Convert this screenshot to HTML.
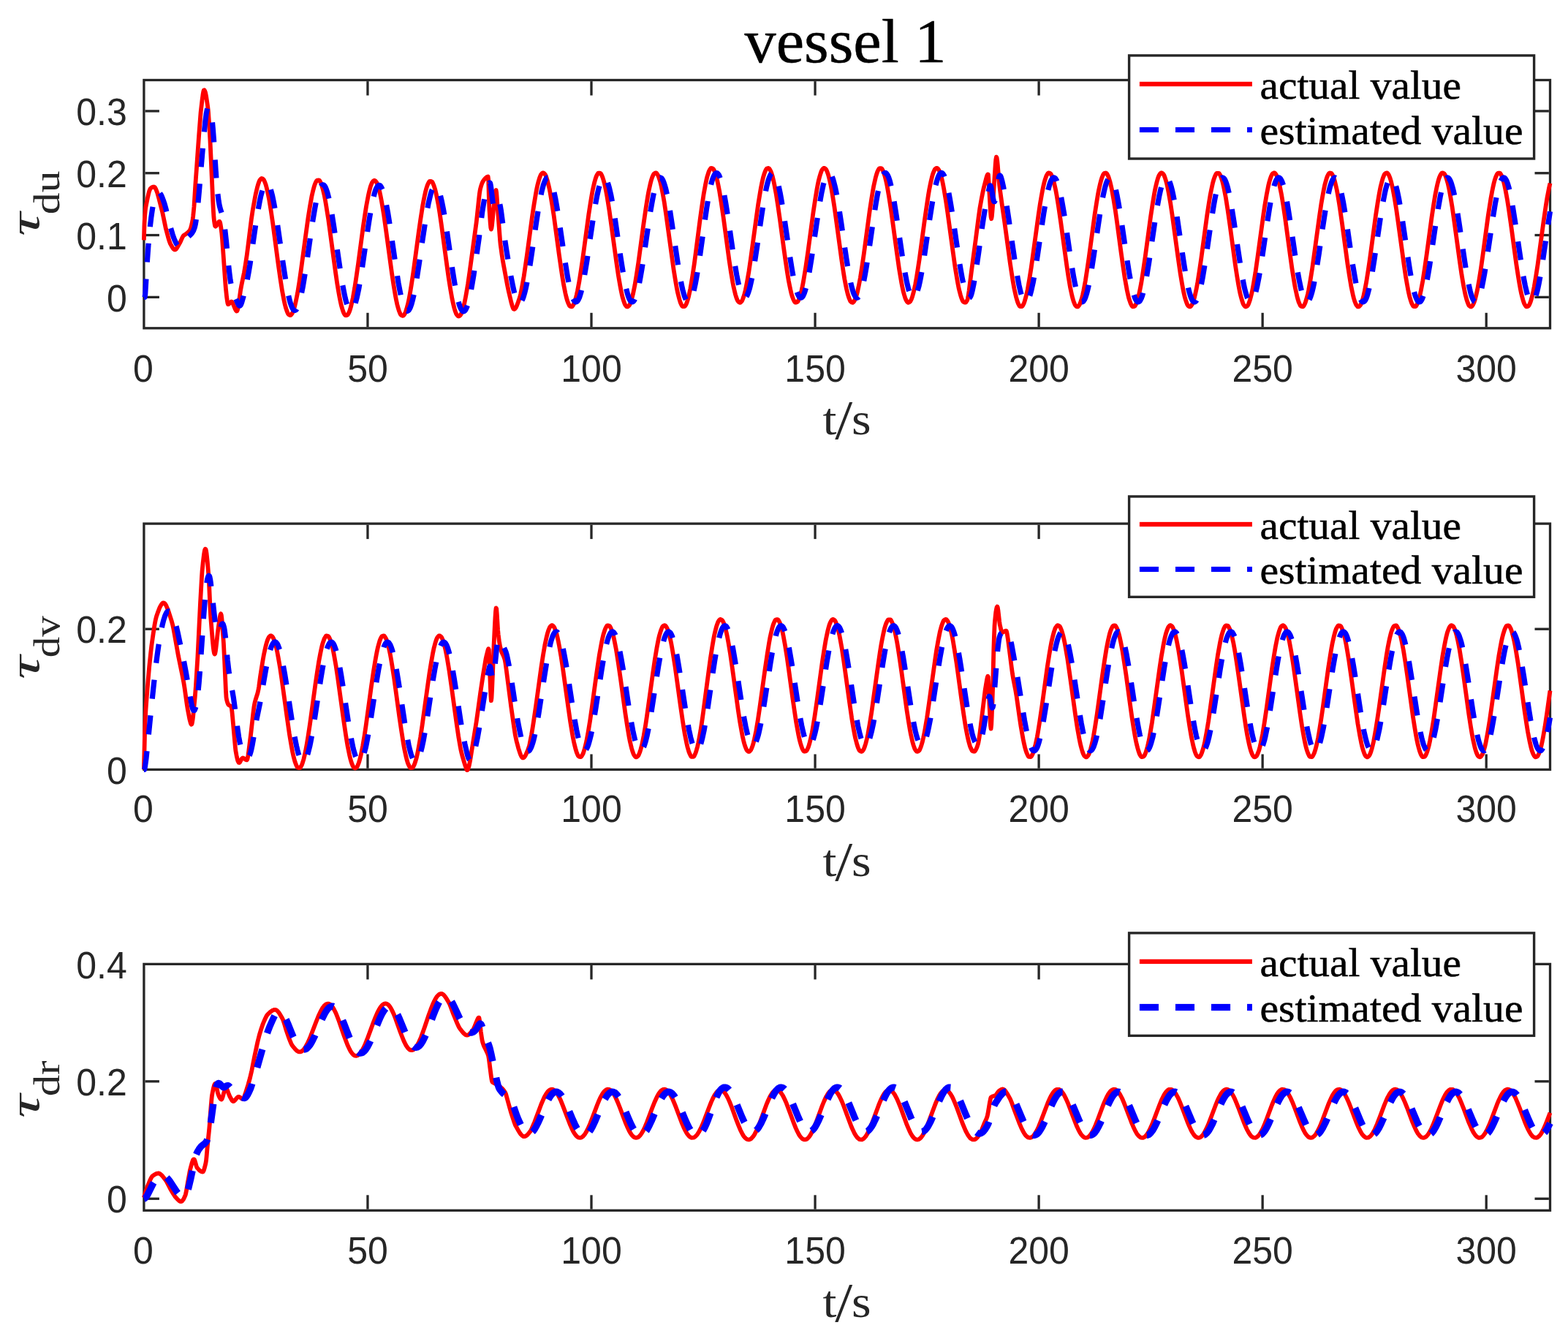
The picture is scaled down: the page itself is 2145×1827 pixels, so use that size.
<!DOCTYPE html>
<html lang="en"><head><meta charset="utf-8"><title>vessel 1</title>
<style>
html,body{margin:0;padding:0;background:#fff;}
body{width:2145px;height:1827px;overflow:hidden;}
svg{display:block;}
.tk{font-family:"Liberation Sans",sans-serif;font-size:52px;fill:#262626;}
.xl{font-family:"Liberation Serif",serif;font-size:61px;fill:#262626;}
.lg{font-family:"Liberation Serif",serif;font-size:54px;fill:#000;stroke:#000;stroke-width:0.5px;}
.ti{font-family:"Liberation Serif",serif;font-size:85px;fill:#000;stroke:#000;stroke-width:0.5px;}
.yl{font-family:"Liberation Serif",serif;fill:#262626;}
.ax{fill:#262626;}
.r{fill:none;stroke:#f00;stroke-linejoin:round;stroke-linecap:butt;}
.b{fill:none;stroke:#00f;stroke-linejoin:round;stroke-linecap:butt;}
</style></head><body>
<svg xmlns="http://www.w3.org/2000/svg" width="2145" height="1827" viewBox="0 0 2145 1827">
<rect x="0" y="0" width="2145" height="1827" fill="#fff"/>
<g id="axes1">
<rect x="196.9" y="109.5" width="1923.6" height="339.3" fill="none" stroke="#262626" stroke-width="3.3"/>
<text class="tk" transform="translate(195.9 521.6) scale(0.9615 1)" text-anchor="middle">0</text>
<rect class="ax" x="501.3" y="427.8" width="3.3" height="19.35"/>
<rect class="ax" x="501.3" y="111.15" width="3.3" height="19.35"/>
<text class="tk" transform="translate(502.95 521.6) scale(0.9615 1)" text-anchor="middle">50</text>
<rect class="ax" x="807.35" y="427.8" width="3.3" height="19.35"/>
<rect class="ax" x="807.35" y="111.15" width="3.3" height="19.35"/>
<text class="tk" transform="translate(809 521.6) scale(0.9615 1)" text-anchor="middle">100</text>
<rect class="ax" x="1113.4" y="427.8" width="3.3" height="19.35"/>
<rect class="ax" x="1113.4" y="111.15" width="3.3" height="19.35"/>
<text class="tk" transform="translate(1115.05 521.6) scale(0.9615 1)" text-anchor="middle">150</text>
<rect class="ax" x="1419.45" y="427.8" width="3.3" height="19.35"/>
<rect class="ax" x="1419.45" y="111.15" width="3.3" height="19.35"/>
<text class="tk" transform="translate(1421.1 521.6) scale(0.9615 1)" text-anchor="middle">200</text>
<rect class="ax" x="1725.5" y="427.8" width="3.3" height="19.35"/>
<rect class="ax" x="1725.5" y="111.15" width="3.3" height="19.35"/>
<text class="tk" transform="translate(1727.15 521.6) scale(0.9615 1)" text-anchor="middle">250</text>
<rect class="ax" x="2031.55" y="427.8" width="3.3" height="19.35"/>
<rect class="ax" x="2031.55" y="111.15" width="3.3" height="19.35"/>
<text class="tk" transform="translate(2033.2 521.6) scale(0.9615 1)" text-anchor="middle">300</text>
<rect class="ax" x="198.55" y="404.74" width="19.35" height="3.3"/>
<rect class="ax" x="2099.5" y="404.74" width="19.35" height="3.3"/>
<text class="tk" transform="translate(173.7 425.59) scale(0.9615 1)" text-anchor="end">0</text>
<rect class="ax" x="198.55" y="319.91" width="19.35" height="3.3"/>
<rect class="ax" x="2099.5" y="319.91" width="19.35" height="3.3"/>
<text class="tk" transform="translate(173.7 340.76) scale(0.9615 1)" text-anchor="end">0.1</text>
<rect class="ax" x="198.55" y="235.09" width="19.35" height="3.3"/>
<rect class="ax" x="2099.5" y="235.09" width="19.35" height="3.3"/>
<text class="tk" transform="translate(173.7 255.94) scale(0.9615 1)" text-anchor="end">0.2</text>
<rect class="ax" x="198.55" y="150.26" width="19.35" height="3.3"/>
<rect class="ax" x="2099.5" y="150.26" width="19.35" height="3.3"/>
<text class="tk" transform="translate(173.7 171.11) scale(0.9615 1)" text-anchor="end">0.3</text>
<text class="xl" transform="translate(1125.5 594.2) scale(1.12 1)">t<tspan font-size="77px" dx="-2" dy="6">/</tspan><tspan dx="-1" dy="-6">s</tspan></text>
<text class="yl" transform="translate(53.4 322.95) rotate(-90)"><tspan font-size="58px" font-style="italic" stroke="#262626" stroke-width="0" textLength="32.3" lengthAdjust="spacingAndGlyphs">τ</tspan><tspan font-size="51px" dx="-2.5" dy="27.1" textLength="59.6" lengthAdjust="spacingAndGlyphs">du</tspan></text>
</g>
<g id="axes2">
<rect x="196.9" y="716.1" width="1923.6" height="336.3" fill="none" stroke="#262626" stroke-width="3.3"/>
<text class="tk" transform="translate(195.9 1124.4) scale(0.9615 1)" text-anchor="middle">0</text>
<rect class="ax" x="501.3" y="1031.4" width="3.3" height="19.35"/>
<rect class="ax" x="501.3" y="717.75" width="3.3" height="19.35"/>
<text class="tk" transform="translate(502.95 1124.4) scale(0.9615 1)" text-anchor="middle">50</text>
<rect class="ax" x="807.35" y="1031.4" width="3.3" height="19.35"/>
<rect class="ax" x="807.35" y="717.75" width="3.3" height="19.35"/>
<text class="tk" transform="translate(809 1124.4) scale(0.9615 1)" text-anchor="middle">100</text>
<rect class="ax" x="1113.4" y="1031.4" width="3.3" height="19.35"/>
<rect class="ax" x="1113.4" y="717.75" width="3.3" height="19.35"/>
<text class="tk" transform="translate(1115.05 1124.4) scale(0.9615 1)" text-anchor="middle">150</text>
<rect class="ax" x="1419.45" y="1031.4" width="3.3" height="19.35"/>
<rect class="ax" x="1419.45" y="717.75" width="3.3" height="19.35"/>
<text class="tk" transform="translate(1421.1 1124.4) scale(0.9615 1)" text-anchor="middle">200</text>
<rect class="ax" x="1725.5" y="1031.4" width="3.3" height="19.35"/>
<rect class="ax" x="1725.5" y="717.75" width="3.3" height="19.35"/>
<text class="tk" transform="translate(1727.15 1124.4) scale(0.9615 1)" text-anchor="middle">250</text>
<rect class="ax" x="2031.55" y="1031.4" width="3.3" height="19.35"/>
<rect class="ax" x="2031.55" y="717.75" width="3.3" height="19.35"/>
<text class="tk" transform="translate(2033.2 1124.4) scale(0.9615 1)" text-anchor="middle">300</text>
<text class="tk" transform="translate(173.7 1071.6) scale(0.9615 1)" text-anchor="end">0</text>
<rect class="ax" x="198.55" y="858.58" width="19.35" height="3.3"/>
<rect class="ax" x="2099.5" y="858.58" width="19.35" height="3.3"/>
<text class="tk" transform="translate(173.7 879.43) scale(0.9615 1)" text-anchor="end">0.2</text>
<text class="xl" transform="translate(1125.5 1197.8) scale(1.12 1)">t<tspan font-size="77px" dx="-2" dy="6">/</tspan><tspan dx="-1" dy="-6">s</tspan></text>
<text class="yl" transform="translate(53.4 929.1) rotate(-90)"><tspan font-size="58px" font-style="italic" stroke="#262626" stroke-width="0" textLength="32.3" lengthAdjust="spacingAndGlyphs">τ</tspan><tspan font-size="51px" dx="-2.5" dy="27.1" textLength="57.1" lengthAdjust="spacingAndGlyphs">dv</tspan></text>
</g>
<g id="axes3">
<rect x="196.9" y="1318.4" width="1923.6" height="336.9" fill="none" stroke="#262626" stroke-width="3.3"/>
<text class="tk" transform="translate(195.9 1727.6) scale(0.9615 1)" text-anchor="middle">0</text>
<rect class="ax" x="501.3" y="1634.3" width="3.3" height="19.35"/>
<rect class="ax" x="501.3" y="1320.05" width="3.3" height="19.35"/>
<text class="tk" transform="translate(502.95 1727.6) scale(0.9615 1)" text-anchor="middle">50</text>
<rect class="ax" x="807.35" y="1634.3" width="3.3" height="19.35"/>
<rect class="ax" x="807.35" y="1320.05" width="3.3" height="19.35"/>
<text class="tk" transform="translate(809 1727.6) scale(0.9615 1)" text-anchor="middle">100</text>
<rect class="ax" x="1113.4" y="1634.3" width="3.3" height="19.35"/>
<rect class="ax" x="1113.4" y="1320.05" width="3.3" height="19.35"/>
<text class="tk" transform="translate(1115.05 1727.6) scale(0.9615 1)" text-anchor="middle">150</text>
<rect class="ax" x="1419.45" y="1634.3" width="3.3" height="19.35"/>
<rect class="ax" x="1419.45" y="1320.05" width="3.3" height="19.35"/>
<text class="tk" transform="translate(1421.1 1727.6) scale(0.9615 1)" text-anchor="middle">200</text>
<rect class="ax" x="1725.5" y="1634.3" width="3.3" height="19.35"/>
<rect class="ax" x="1725.5" y="1320.05" width="3.3" height="19.35"/>
<text class="tk" transform="translate(1727.15 1727.6) scale(0.9615 1)" text-anchor="middle">250</text>
<rect class="ax" x="2031.55" y="1634.3" width="3.3" height="19.35"/>
<rect class="ax" x="2031.55" y="1320.05" width="3.3" height="19.35"/>
<text class="tk" transform="translate(2033.2 1727.6) scale(0.9615 1)" text-anchor="middle">300</text>
<rect class="ax" x="198.55" y="1637.61" width="19.35" height="3.3"/>
<rect class="ax" x="2099.5" y="1637.61" width="19.35" height="3.3"/>
<text class="tk" transform="translate(173.7 1658.46) scale(0.9615 1)" text-anchor="end">0</text>
<rect class="ax" x="198.55" y="1477.18" width="19.35" height="3.3"/>
<rect class="ax" x="2099.5" y="1477.18" width="19.35" height="3.3"/>
<text class="tk" transform="translate(173.7 1498.03) scale(0.9615 1)" text-anchor="end">0.2</text>
<text class="tk" transform="translate(173.7 1337.6) scale(0.9615 1)" text-anchor="end">0.4</text>
<text class="xl" transform="translate(1125.5 1800.7) scale(1.12 1)">t<tspan font-size="77px" dx="-2" dy="6">/</tspan><tspan dx="-1" dy="-6">s</tspan></text>
<text class="yl" transform="translate(53.4 1529.1) rotate(-90)"><tspan font-size="58px" font-style="italic" stroke="#262626" stroke-width="0" textLength="32.3" lengthAdjust="spacingAndGlyphs">τ</tspan><tspan font-size="51px" dx="-2.5" dy="27.1" textLength="48.9" lengthAdjust="spacingAndGlyphs">dr</tspan></text>
</g>
<g id="curves1">
<path class="r" stroke-width="5.8" d="M196.9,328.3 197.5,306.4 198.1,295.5 198.7,289.0 199.3,284.0 200.0,280.2 201.8,271.2 203.0,265.8 204.2,261.3 204.9,259.6 205.5,258.3 206.1,257.5 207.9,256.2 209.1,255.7 209.8,255.6 210.4,255.5 211.0,255.6 211.6,256.0 212.2,256.7 212.8,257.7 213.4,259.0 214.0,260.5 215.3,264.0 217.1,270.5 222.0,289.4 223.2,295.1 225.7,307.2 226.9,312.8 230.6,326.4 231.8,330.3 233.0,333.4 235.5,337.8 236.7,339.7 237.3,340.4 237.9,341.0 238.5,341.3 239.1,341.5 239.7,341.4 240.4,341.0 241.0,340.5 241.6,339.8 242.8,337.9 246.5,331.4 249.5,324.6 250.2,323.4 250.8,322.5 252.0,321.4 254.4,320.0 257.5,317.5 258.7,316.2 259.3,315.4 259.9,314.4 260.6,313.0 261.2,311.3 262.4,306.5 263.6,300.2 264.2,295.5 265.5,282.3 267.3,253.0 269.1,228.1 271.0,201.1 272.2,184.4 274.6,153.5 276.5,137.2 277.7,128.2 278.3,125.0 278.9,123.3 279.5,123.2 280.1,124.1 280.8,125.8 281.4,128.2 282.0,131.3 283.8,143.1 284.4,147.6 285.0,153.7 286.3,171.6 287.5,193.0 288.7,218.6 291.2,274.8 291.8,286.6 292.4,296.4 293.0,302.3 293.6,306.3 294.2,309.0 294.8,309.7 295.4,309.3 296.1,308.6 298.5,304.5 299.1,303.6 299.7,303.1 300.3,302.9 301.0,304.0 301.6,306.6 302.2,310.4 303.4,319.7 304.0,326.5 308.3,387.3 308.9,394.4 310.1,406.0 310.8,410.9 311.4,414.5 312.0,416.2 312.6,416.1 313.2,415.6 315.0,413.5 315.6,412.9 316.3,412.5 316.9,412.6 317.5,413.1 318.1,414.0 318.7,415.2 321.8,422.8 322.4,424.0 323.0,424.9 323.6,425.5 324.2,425.4 324.8,424.2 325.4,421.7 326.1,418.3 329.1,396.9 330.3,390.4 334.0,372.5 335.8,361.6 337.7,349.1 338.9,339.9 343.8,300.4 345.6,288.3 348.7,271.1 349.9,264.8 351.8,256.8 353.0,252.5 354.2,249.0 354.8,247.5 355.4,246.4 356.7,244.8 357.3,244.2 357.9,244.0 358.5,244.1 359.7,244.8 360.3,245.3 360.9,246.0 362.2,248.7 363.4,251.9 364.6,256.2 365.8,261.2 368.3,273.5 370.7,288.4 373.2,305.2 380.5,360.4 383.6,382.1 386.0,397.6 388.5,410.6 389.7,416.1 390.9,420.8 392.2,424.6 393.4,427.7 394.0,428.9 394.6,429.7 395.8,430.7 396.4,431.0 397.1,431.2 397.7,431.0 398.3,430.4 399.5,428.9 400.1,427.8 400.7,426.4 402.0,423.0 403.2,418.8 404.4,413.7 405.6,407.9 406.9,401.4 409.3,386.7 411.7,370.0 418.5,319.7 421.5,297.9 424.0,282.2 426.4,268.7 428.3,260.4 429.5,255.9 430.7,252.1 431.9,249.3 432.6,248.1 433.2,247.1 433.8,246.7 435.0,246.5 436.2,246.4 436.8,246.7 437.5,247.5 438.1,248.6 439.3,251.1 440.5,254.6 441.7,258.9 443.6,266.8 444.8,273.0 446.0,279.9 449.1,299.4 451.5,316.9 458.9,371.5 461.3,388.1 463.2,399.3 464.4,406.0 465.6,412.0 466.8,417.4 468.1,421.9 469.3,425.6 469.9,427.2 470.5,428.4 471.7,430.4 472.3,431.1 473.0,431.3 473.6,431.3 474.8,430.9 475.4,430.6 476.0,430.0 476.6,429.0 477.9,426.2 479.1,422.7 480.3,418.4 481.5,413.2 482.8,407.3 485.2,393.6 487.6,377.7 490.1,360.2 496.8,310.0 499.3,293.2 501.1,281.7 503.6,268.5 505.4,260.4 506.6,255.9 507.2,254.0 508.5,250.8 509.1,249.5 509.7,248.6 510.9,247.3 511.5,246.9 512.1,246.7 512.7,246.9 513.4,247.3 514.6,248.6 515.2,249.5 515.8,250.8 517.0,254.0 518.3,258.0 519.5,262.9 520.7,268.5 521.9,274.8 523.1,281.7 525.0,293.2 528.0,314.5 536.0,373.5 538.5,390.0 540.9,404.4 542.1,410.6 543.3,416.2 544.6,420.9 545.8,425.0 547.0,428.0 547.6,429.3 548.2,430.4 548.9,431.0 549.5,431.3 550.7,431.8 551.3,431.8 551.9,431.6 552.5,430.9 553.8,429.0 554.4,427.8 555.0,426.2 556.2,422.5 557.4,418.1 558.7,412.8 559.9,406.8 561.1,400.1 562.9,389.0 565.4,372.5 572.7,318.1 575.2,300.7 578.2,281.3 579.5,274.4 580.7,268.3 581.9,262.8 583.1,258.1 584.4,254.2 585.0,252.5 586.2,250.1 586.8,249.0 587.4,248.2 588.0,247.9 589.3,247.9 590.5,248.2 591.1,248.6 591.7,249.6 592.3,250.8 593.5,253.6 595.4,259.6 596.6,264.6 597.8,270.3 599.7,280.1 601.5,291.3 603.9,307.9 611.3,362.5 613.7,379.8 616.2,395.6 618.6,409.2 619.9,415.0 621.1,420.0 621.7,422.3 622.9,426.0 624.1,429.1 624.8,430.2 626.0,431.7 626.6,432.3 627.2,432.5 627.8,432.4 628.4,432.1 629.7,431.1 630.3,430.3 631.5,427.7 632.7,424.4 633.9,420.1 635.2,415.2 637.0,406.2 638.2,399.5 640.1,388.2 642.5,371.6 651.7,304.0 652.9,293.1 655.4,269.2 656.0,264.4 656.6,260.5 657.2,257.7 658.4,253.5 659.6,250.1 660.9,247.6 662.1,245.9 664.5,243.2 665.8,242.2 666.4,241.9 667.6,241.5 668.2,245.8 668.8,268.5 669.4,285.0 670.7,304.8 671.3,311.2 671.9,313.6 672.5,311.9 673.1,307.5 675.0,287.4 677.4,264.7 678.0,261.0 678.6,260.0 679.2,263.6 679.8,270.9 681.1,289.5 684.1,328.8 684.7,334.9 685.4,339.9 686.6,348.7 687.8,356.3 689.0,363.1 693.9,389.2 695.8,398.4 699.4,413.6 700.7,418.1 701.3,420.0 701.9,421.5 702.5,422.5 703.1,422.9 703.7,422.8 704.3,422.4 704.9,421.8 705.6,420.9 706.8,418.5 708.6,413.8 711.1,406.5 711.7,404.3 712.3,401.6 714.7,389.0 716.6,378.2 717.8,370.2 720.9,348.8 728.2,294.8 730.7,278.5 733.1,264.2 734.3,257.9 735.5,252.4 736.8,247.5 738.0,243.6 739.2,240.4 739.8,239.1 740.4,238.2 741.7,236.9 742.3,236.5 742.9,236.3 743.5,236.5 744.1,236.9 745.3,238.1 746.0,239.0 746.6,240.3 747.8,243.5 749.0,247.5 750.2,252.3 751.5,257.8 752.7,264.0 755.1,278.4 757.6,294.6 764.9,348.7 768.0,370.1 769.2,378.0 771.0,388.9 772.3,395.4 773.5,401.3 774.7,406.4 775.9,410.7 777.2,414.2 778.4,416.9 779.0,418.0 779.6,418.6 780.8,419.2 782.1,419.4 782.7,419.1 783.3,418.4 783.9,417.5 785.1,415.3 785.7,413.8 787.6,408.0 788.8,403.1 790.0,397.6 792.5,384.4 794.9,368.9 797.4,351.8 805.3,293.4 807.8,277.2 809.6,266.4 810.8,259.9 812.1,254.1 813.3,249.0 814.5,244.8 815.7,241.3 816.3,240.0 817.6,237.7 818.2,236.9 818.8,236.6 820.0,236.7 821.2,236.9 821.9,237.4 822.5,238.3 823.1,239.5 824.3,242.3 825.5,246.1 826.8,250.6 828.0,255.9 829.2,261.9 830.4,268.6 831.6,275.8 833.5,287.7 836.5,309.3 843.3,358.9 845.7,375.4 848.2,390.0 849.4,396.5 850.6,402.2 851.8,407.2 853.1,411.4 854.3,414.8 854.9,416.2 855.5,417.2 856.7,418.8 857.4,419.3 858.0,419.5 858.6,419.4 859.2,419.1 860.4,418.1 861.0,417.4 861.6,416.2 862.9,413.2 864.1,409.4 865.9,402.3 868.4,390.2 870.8,375.6 873.3,359.1 880.6,305.0 883.7,283.7 886.1,268.7 887.3,262.0 888.6,256.0 889.8,250.7 891.0,246.1 892.2,242.4 893.5,239.5 894.1,238.3 894.7,237.6 895.9,236.7 896.5,236.5 897.1,236.4 897.8,236.6 898.4,237.1 899.6,238.8 900.2,239.9 900.8,241.3 902.0,244.8 903.3,249.0 904.5,254.0 905.7,259.8 906.9,266.3 908.8,277.1 911.2,293.3 918.6,347.2 921.6,368.8 923.5,380.6 924.7,387.8 925.9,394.4 927.1,400.3 928.4,405.6 929.6,410.0 930.8,413.8 932.0,416.5 932.6,417.7 933.3,418.6 933.9,419.0 936.3,419.2 936.9,418.8 937.5,418.0 938.8,415.7 939.4,414.3 940.6,410.7 941.8,406.5 943.0,401.2 944.3,395.3 945.5,388.6 947.3,377.4 949.8,360.6 952.2,342.3 957.7,299.8 960.2,282.0 962.6,265.8 965.1,252.1 966.3,246.3 967.5,241.3 969.4,235.4 970.0,233.9 971.2,231.7 971.8,230.8 972.4,230.1 973.0,229.9 973.7,230.0 974.3,230.2 975.5,230.8 976.1,231.5 976.7,232.5 977.9,235.3 979.2,238.9 980.4,243.3 981.6,248.5 982.8,254.4 984.1,261.0 986.5,276.0 989.6,297.2 997.5,355.8 1000.0,372.2 1002.4,386.5 1003.6,392.7 1004.9,398.2 1006.1,403.0 1007.3,406.9 1008.5,410.0 1009.2,411.3 1009.8,412.2 1011.0,413.3 1011.6,413.7 1012.2,413.8 1012.8,413.7 1013.4,413.2 1014.7,411.9 1015.3,410.9 1015.9,409.6 1017.1,406.3 1018.3,402.3 1019.6,397.4 1020.8,391.7 1022.0,385.4 1024.5,370.9 1026.9,354.5 1034.3,300.2 1037.3,278.7 1039.8,263.5 1041.0,256.6 1042.2,250.5 1044.0,242.6 1045.3,238.3 1046.5,234.9 1047.7,232.2 1048.3,231.2 1048.9,230.6 1050.8,230.0 1051.4,230.0 1052.0,230.3 1052.6,231.0 1053.8,233.0 1054.5,234.3 1055.1,235.9 1056.9,241.7 1058.1,246.7 1059.3,252.4 1061.8,265.8 1064.2,281.4 1066.7,298.6 1072.2,339.7 1074.7,357.3 1077.1,373.4 1078.9,384.2 1080.2,390.7 1081.4,396.4 1082.6,401.5 1083.8,405.6 1085.1,409.1 1085.7,410.4 1086.9,412.5 1087.5,413.3 1088.1,413.6 1089.3,413.5 1090.6,413.1 1091.2,412.6 1091.8,411.7 1092.4,410.4 1093.6,407.5 1094.9,403.7 1096.1,399.1 1097.3,393.7 1098.5,387.6 1099.7,380.8 1102.2,365.6 1105.3,344.2 1112.6,289.9 1115.1,273.4 1117.5,258.8 1118.7,252.4 1119.9,246.7 1121.2,241.8 1122.4,237.7 1123.6,234.3 1124.2,232.9 1124.8,231.9 1126.1,230.5 1126.7,230.0 1127.3,229.8 1127.9,229.9 1128.5,230.3 1129.7,231.3 1130.4,232.2 1131.6,234.9 1132.8,238.2 1134.0,242.6 1135.2,247.6 1136.5,253.4 1137.7,259.9 1138.9,267.0 1141.4,282.8 1143.8,300.2 1151.2,354.5 1153.6,370.9 1155.4,382.0 1156.7,388.6 1157.9,394.6 1159.7,402.2 1161.0,406.3 1161.6,408.0 1162.8,410.9 1163.4,412.0 1164.0,412.7 1165.2,413.5 1165.9,413.7 1166.5,413.8 1167.1,413.5 1167.7,412.9 1168.3,412.1 1169.5,410.1 1170.8,406.9 1172.0,403.0 1173.2,398.2 1174.4,392.7 1176.9,379.7 1179.3,364.3 1181.8,347.2 1189.7,288.5 1192.2,272.1 1194.0,261.1 1195.2,254.5 1196.5,248.6 1197.7,243.3 1198.9,239.0 1200.1,235.3 1201.4,232.6 1202.0,231.5 1202.6,230.6 1203.2,230.2 1205.6,230.2 1206.3,230.6 1206.9,231.5 1208.7,235.3 1209.9,239.0 1211.1,243.3 1212.4,248.6 1213.6,254.4 1216.0,268.3 1218.5,284.2 1220.9,301.6 1227.1,347.2 1230.1,368.3 1232.0,379.6 1233.2,386.5 1234.4,392.7 1235.6,398.2 1236.9,403.0 1238.1,406.9 1239.3,410.1 1240.5,412.1 1241.1,412.9 1241.8,413.5 1242.4,413.8 1243.0,413.7 1244.2,413.1 1244.8,412.7 1245.4,412.0 1246.7,409.5 1247.9,406.3 1249.7,399.9 1250.9,394.6 1252.2,388.6 1254.0,378.4 1255.8,366.9 1257.7,354.5 1265.0,300.2 1267.5,282.8 1269.9,267.0 1271.1,259.9 1272.4,253.4 1273.6,247.6 1274.8,242.6 1276.0,238.2 1277.3,234.9 1278.5,232.2 1279.1,231.3 1280.3,230.3 1280.9,229.9 1281.5,229.8 1282.2,230.0 1282.8,230.5 1284.0,231.9 1284.6,232.9 1285.2,234.3 1286.4,237.7 1287.7,241.8 1288.9,246.7 1290.1,252.4 1291.3,258.8 1293.8,273.4 1296.2,289.9 1303.6,344.2 1306.6,365.6 1309.1,380.8 1310.3,387.6 1311.5,393.7 1312.8,399.1 1314.0,403.6 1315.2,407.5 1316.4,410.4 1317.0,411.6 1317.7,412.6 1318.3,413.1 1319.5,413.5 1320.7,413.6 1321.3,413.3 1321.9,412.6 1323.2,410.4 1323.8,408.6 1324.4,405.7 1325.6,397.6 1328.7,372.8 1334.8,327.2 1338.5,298.3 1340.3,285.3 1342.8,271.3 1344.6,262.1 1345.8,256.7 1349.5,242.5 1350.1,240.6 1350.7,239.2 1351.3,238.4 1351.9,238.7 1352.5,247.0 1353.2,259.6 1354.4,279.9 1355.0,289.5 1355.6,296.8 1356.2,299.2 1356.8,296.4 1357.4,290.0 1358.1,281.1 1359.3,261.3 1361.7,225.2 1362.3,218.1 1363.0,214.7 1363.6,215.7 1364.2,219.6 1364.8,225.6 1366.6,247.6 1367.2,253.6 1368.5,263.3 1370.9,281.0 1374.0,302.0 1381.9,360.4 1383.8,372.9 1385.6,384.3 1387.4,394.5 1388.7,400.4 1389.9,405.7 1391.7,412.0 1392.9,415.2 1394.2,417.7 1394.8,418.6 1395.4,419.0 1397.2,419.1 1397.8,419.1 1398.5,418.8 1399.1,418.0 1400.3,415.7 1400.9,414.3 1401.5,412.6 1403.3,406.4 1404.6,401.3 1405.8,395.5 1408.2,381.8 1410.7,366.0 1413.1,348.7 1420.5,294.7 1422.9,278.4 1424.8,267.4 1426.0,260.9 1427.2,255.0 1428.4,249.8 1429.7,245.4 1430.9,241.8 1431.5,240.3 1432.1,239.2 1433.3,237.3 1434.0,236.7 1434.6,236.4 1435.2,236.5 1435.8,236.7 1437.0,237.3 1437.6,238.0 1438.2,239.1 1439.5,241.9 1440.7,245.4 1441.9,249.8 1443.1,255.0 1444.4,260.9 1445.6,267.5 1448.0,282.4 1451.1,303.5 1459.1,361.9 1461.5,378.1 1463.9,392.3 1465.2,398.5 1466.4,404.0 1467.6,408.7 1468.8,412.6 1470.1,415.7 1470.7,417.0 1471.3,417.9 1472.5,419.0 1473.1,419.4 1473.7,419.5 1474.4,419.4 1475.0,418.9 1475.6,418.3 1476.2,417.5 1476.8,416.6 1477.4,415.3 1478.6,412.0 1479.9,407.9 1481.1,403.1 1482.3,397.5 1484.8,384.2 1487.2,368.8 1489.7,351.7 1497.6,293.2 1500.1,277.1 1501.9,266.3 1503.1,259.8 1505.0,251.4 1506.2,246.8 1507.4,242.9 1508.6,240.0 1509.2,238.7 1509.9,237.7 1510.5,237.1 1511.7,236.7 1512.9,236.5 1513.5,236.8 1514.1,237.5 1514.8,238.5 1516.0,240.8 1517.2,244.2 1518.4,248.3 1519.6,253.2 1520.9,258.9 1523.3,272.2 1525.8,287.8 1528.2,304.9 1533.7,345.8 1536.2,363.3 1538.6,379.4 1540.5,390.1 1541.7,396.6 1542.9,402.2 1544.1,407.3 1545.4,411.4 1546.6,414.8 1547.2,416.1 1548.4,418.2 1549.0,419.0 1549.6,419.3 1550.9,419.2 1552.1,418.8 1552.7,418.3 1553.3,417.3 1553.9,416.1 1555.1,413.2 1556.4,409.3 1557.6,404.8 1558.8,399.4 1560.0,393.4 1561.3,386.6 1563.7,371.4 1566.8,350.2 1574.1,296.1 1576.6,279.7 1579.0,265.2 1580.2,258.8 1581.5,253.1 1582.7,248.2 1583.9,244.1 1585.1,240.8 1585.8,239.4 1586.4,238.4 1587.6,237.0 1588.2,236.5 1588.8,236.3 1589.4,236.5 1590.0,236.8 1591.3,237.9 1591.9,238.7 1592.5,239.9 1593.7,243.0 1594.9,246.8 1596.2,251.5 1597.4,256.9 1598.6,263.1 1601.1,277.2 1603.5,293.4 1611.5,351.8 1614.5,372.9 1617.0,387.9 1618.2,394.5 1619.4,400.4 1620.6,405.7 1621.9,410.1 1623.1,413.7 1624.3,416.6 1624.9,417.7 1625.5,418.4 1626.8,419.1 1627.4,419.4 1628.0,419.5 1628.6,419.2 1629.2,418.6 1630.4,416.9 1631.1,415.7 1632.3,412.5 1633.5,408.7 1634.1,406.4 1635.3,401.3 1636.6,395.4 1638.4,385.4 1640.8,370.1 1643.3,353.1 1651.2,294.7 1653.7,278.4 1655.5,267.4 1656.8,260.8 1658.0,255.0 1659.2,249.7 1660.4,245.4 1661.7,241.8 1662.9,239.1 1663.5,238.0 1664.1,237.1 1664.7,236.8 1667.2,236.8 1667.8,237.1 1668.4,238.0 1669.6,240.4 1670.8,243.5 1672.1,247.6 1673.3,252.3 1674.5,257.9 1677.0,271.0 1679.4,286.4 1682.5,307.9 1689.8,361.9 1692.3,378.1 1694.1,389.0 1695.3,395.5 1696.5,401.4 1697.8,406.5 1699.0,410.8 1700.2,414.3 1700.8,415.8 1701.4,416.9 1702.7,418.6 1703.3,419.2 1703.9,419.5 1704.5,419.4 1705.1,419.1 1706.3,418.4 1707.0,417.7 1707.6,416.6 1708.8,413.7 1710.0,410.1 1711.2,405.6 1712.5,400.3 1713.7,394.4 1714.9,387.8 1717.4,372.8 1720.4,351.6 1728.4,293.2 1730.2,280.9 1732.7,266.2 1735.1,254.0 1736.3,249.0 1737.6,244.7 1738.8,241.3 1740.0,238.7 1740.6,237.8 1741.2,237.3 1741.8,236.8 1742.5,236.5 1743.1,236.3 1743.7,236.5 1744.3,237.0 1744.9,237.7 1745.5,238.5 1746.1,239.5 1747.3,242.5 1748.6,246.1 1749.8,250.7 1751.0,256.0 1752.9,265.3 1755.3,279.8 1757.8,296.2 1765.1,350.3 1767.5,367.5 1769.4,379.4 1770.6,386.7 1771.8,393.5 1773.1,399.5 1774.3,404.9 1775.5,409.4 1776.7,413.3 1778.0,416.1 1778.6,417.4 1779.2,418.3 1779.8,418.8 1781.0,419.2 1782.2,419.3 1782.9,419.0 1783.5,418.2 1784.7,416.1 1785.3,414.8 1785.9,413.2 1787.7,407.2 1789.0,402.1 1790.2,396.5 1792.6,383.0 1795.1,367.4 1797.5,350.1 1804.9,296.1 1807.3,279.6 1809.2,268.5 1811.0,258.8 1812.2,253.1 1813.5,248.2 1814.7,244.1 1815.9,240.8 1817.1,238.5 1817.7,237.5 1818.4,236.8 1819.0,236.5 1819.6,236.6 1820.2,236.7 1821.4,237.1 1822.0,237.7 1822.6,238.7 1823.9,241.4 1825.1,244.8 1826.3,249.1 1827.5,254.1 1828.8,259.9 1830.0,266.4 1831.8,277.2 1833.0,285.1 1836.1,306.5 1843.4,360.5 1845.9,376.9 1848.3,391.3 1849.6,397.6 1850.8,403.2 1852.0,408.0 1853.2,412.0 1854.5,415.3 1855.1,416.6 1855.7,417.6 1856.9,418.9 1857.5,419.4 1858.1,419.5 1858.8,419.4 1859.4,419.0 1860.6,417.8 1861.2,417.0 1861.8,415.7 1863.0,412.6 1864.3,408.7 1865.5,403.9 1866.7,398.4 1869.2,385.4 1871.6,370.1 1874.1,353.1 1882.0,294.6 1884.5,278.3 1886.3,267.4 1887.5,260.8 1888.7,254.9 1890.6,247.5 1891.8,243.4 1892.4,241.8 1893.6,239.0 1894.3,238.0 1894.9,237.3 1896.1,236.7 1896.7,236.5 1897.3,236.4 1897.9,236.7 1898.5,237.3 1899.2,238.2 1900.4,240.4 1901.6,243.6 1902.8,247.5 1904.0,252.4 1905.3,257.9 1907.7,271.1 1910.2,286.5 1912.6,303.5 1920.6,361.9 1923.0,378.2 1924.9,389.0 1926.1,395.6 1927.3,401.4 1928.5,406.5 1929.8,410.8 1931.0,414.4 1931.6,415.7 1932.8,418.0 1933.4,418.8 1934.0,419.2 1936.5,419.0 1937.1,418.6 1937.7,417.7 1938.9,415.2 1940.2,412.0 1941.4,407.9 1942.6,403.0 1943.8,397.4 1946.3,384.2 1948.7,368.7 1951.8,347.1 1958.5,297.5 1961.0,280.9 1963.4,266.2 1965.3,256.8 1966.5,251.4 1967.7,246.7 1968.9,242.9 1970.2,239.8 1971.4,237.9 1972.0,237.1 1972.6,236.6 1973.2,236.4 1973.8,236.5 1975.1,237.1 1975.7,237.6 1976.3,238.4 1976.9,239.5 1978.1,242.5 1979.3,246.1 1980.6,250.7 1981.8,256.0 1983.0,262.0 1984.2,268.7 1986.7,283.8 1989.7,305.0 1997.1,359.1 1999.5,375.6 2002.0,390.2 2004.4,402.3 2006.3,409.5 2007.5,413.2 2008.7,416.2 2009.3,417.4 2009.9,418.2 2011.2,419.1 2011.8,419.4 2012.4,419.5 2013.0,419.3 2013.6,418.8 2014.8,417.2 2015.4,416.1 2016.7,413.1 2017.9,409.4 2018.5,407.1 2019.7,402.1 2021.0,396.4 2023.4,383.0 2025.9,367.3 2028.3,350.1 2035.6,296.0 2037.5,283.6 2039.3,272.1 2041.2,261.8 2042.4,255.9 2043.6,250.5 2044.8,246.1 2046.1,242.3 2047.9,238.3 2048.5,237.4 2049.1,236.9 2050.3,236.7 2051.6,236.6 2052.2,237.0 2052.8,237.8 2054.0,240.0 2054.6,241.3 2055.2,243.0 2057.1,249.1 2058.3,254.2 2059.5,259.9 2060.7,266.4 2062.0,273.5 2063.8,285.1 2066.9,306.5 2074.2,360.5 2076.7,376.9 2078.5,387.9 2079.7,394.5 2080.9,400.5 2082.2,405.7 2083.4,410.1 2084.6,413.8 2085.2,415.3 2085.8,416.5 2087.1,418.5 2087.7,419.1 2088.3,419.4 2088.9,419.3 2090.1,418.9 2090.7,418.6 2091.3,418.0 2092.0,416.9 2092.6,415.6 2093.8,412.6 2095.0,408.6 2096.2,403.9 2097.5,398.4 2098.7,392.2 2101.1,378.0 2103.6,361.7 2111.5,303.3 2114.6,282.2 2116.4,270.8 2117.7,264.0 2118.9,257.7 2120.5,250.7"/>
<path class="b" stroke-width="7.2" stroke-dasharray="26.17 23.01" d="M196.9,406.4 198.1,406.4 198.7,401.8 201.3,358.5"/>
<path class="b" stroke-width="7.2" stroke-dasharray="25.81 22.69" d="M201.3,358.5 203.0,335.1 204.2,320.9 205.3,310.2"/>
<path class="b" stroke-width="7.2" stroke-dasharray="27.62 24.29" d="M205.3,310.2 206.7,298.3 207.5,292.6 208.5,285.7 209.8,279.2 210.4,276.5 211.6,271.9 212.4,269.6 213.4,266.8 214.6,264.6 215.3,263.9 216.0,263.3 216.5,263.1 217.1,263.1 217.7,263.4 218.3,263.8 218.8,264.3"/>
<path class="b" stroke-width="7.2" stroke-dasharray="26.74 23.51" d="M218.8,264.3 219.5,265.3 220.2,266.3 221.4,268.8 223.2,273.5 225.1,279.0 226.9,285.5 233.6,312.1"/>
<path class="b" stroke-width="7.2" stroke-dasharray="24.97 21.95" d="M233.6,312.1 236.1,320.5 237.4,324.5 239.1,328.8 240.4,331.5 241.6,333.7 242.8,335.3 243.4,335.9 244.0,336.3 244.6,336.5 245.3,336.6 245.9,336.6 246.5,336.4 247.7,335.8 248.9,334.8 250.8,332.7 254.4,327.3 256.3,325.2 258.1,323.3"/>
<path class="b" stroke-width="7.2" stroke-dasharray="26.15 22.99" d="M258.1,323.3 261.2,320.4 263.0,318.2 264.2,316.2 264.8,314.9 266.1,311.5 266.7,309.3 267.3,306.6 267.9,303.2 268.5,299.0 269.7,288.9 271.0,277.3"/>
<path class="b" stroke-width="7.2" stroke-dasharray="26.14 22.99" d="M271.0,277.3 272.8,257.4 275.2,228.3"/>
<path class="b" stroke-width="7.2" stroke-dasharray="25.61 22.52" d="M275.2,228.3 277.7,198.9 279.4,180.4"/>
<path class="b" stroke-width="7.2" stroke-dasharray="32.22 28.33" d="M279.4,180.4 280.7,166.9 282.1,156.4 283.2,150.4 283.8,148.0 284.4,146.2 285.0,145.1 285.6,144.6 286.3,144.7 286.9,145.4 287.5,146.8 288.1,149.2 288.7,152.4 289.3,156.4 290.5,167.4"/>
<path class="b" stroke-width="7.2" stroke-dasharray="27.26 23.97" d="M290.5,167.4 291.3,176.1 292.4,190.2 294.2,218.5"/>
<path class="b" stroke-width="7.2" stroke-dasharray="24.97 21.96" d="M294.2,218.5 296.0,245.2 296.8,254.4 297.9,265.2"/>
<path class="b" stroke-width="7.2" stroke-dasharray="26.33 23.15" d="M297.9,265.2 299.1,274.6 300.3,281.5 301.6,286.4 304.0,293.8 305.2,298.5 306.5,304.8 307.7,313.6"/>
<path class="b" stroke-width="7.2" stroke-dasharray="26.45 23.26" d="M307.7,313.6 309.5,330.0 312.7,363.1"/>
<path class="b" stroke-width="7.2" stroke-dasharray="25.2 22.16" d="M312.7,363.1 313.8,373.2 315.0,382.6 315.8,387.3 316.9,392.6 317.5,395.0 318.7,398.9 319.9,402.1 322.8,409.0"/>
<path class="b" stroke-width="7.2" stroke-dasharray="25.78 22.67" d="M322.8,409.0 325.4,415.1 326.6,417.3 327.3,418.0 327.9,418.2 328.5,418.0 329.1,417.3 329.7,416.2 330.5,414.2 331.5,410.8 332.8,406.3 335.8,393.8 338.3,382.4"/>
<path class="b" stroke-width="7.2" stroke-dasharray="26.19 23.03" d="M338.3,382.4 340.1,372.6 342.0,361.5 345.9,333.8"/>
<path class="b" stroke-width="7.2" stroke-dasharray="25.85 22.73" d="M345.9,333.8 349.9,306.3 353.3,285.8"/>
<path class="b" stroke-width="7.2" stroke-dasharray="25.85 22.73" d="M353.3,285.8 355.4,274.5 356.6,268.9 357.9,263.9 359.1,259.7 360.3,256.2 361.1,254.5 362.1,252.6 362.8,251.8 363.4,251.2 364.1,250.7 364.6,250.6 365.2,250.7 365.8,250.9 366.4,251.4 367.2,252.3 368.3,254.1 369.5,257.0 370.3,259.2"/>
<path class="b" stroke-width="7.2" stroke-dasharray="26.41 23.22" d="M370.3,259.2 371.3,262.8 372.6,267.6 374.5,276.9 376.8,289.5 379.7,307.9"/>
<path class="b" stroke-width="7.2" stroke-dasharray="25.84 22.73" d="M379.7,307.9 386.6,356.0"/>
<path class="b" stroke-width="7.2" stroke-dasharray="26.06 22.92" d="M386.6,356.0 389.1,372.5 390.9,383.9 392.7,394.4 394.7,404.3"/>
<path class="b" stroke-width="7.2" stroke-dasharray="26.18 23.02" d="M394.7,404.3 395.8,408.9 397.0,413.5 398.3,417.3 399.5,420.3 400.7,422.6 401.3,423.4 401.9,423.9 402.7,424.4 403.2,424.5 403.8,424.4 404.4,424.1 405.0,423.7 405.8,422.7 406.8,420.9 408.0,418.0 409.3,414.4 410.5,409.9 412.6,400.5"/>
<path class="b" stroke-width="7.2" stroke-dasharray="26.28 23.11" d="M412.6,400.5 414.2,392.6 416.0,382.0 418.0,369.4 420.6,351.7"/>
<path class="b" stroke-width="7.2" stroke-dasharray="25.98 22.85" d="M420.6,351.7 425.2,319.7 427.6,303.4"/>
<path class="b" stroke-width="7.2" stroke-dasharray="26.61 23.4" d="M427.6,303.4 430.7,285.1 432.5,275.6 433.8,270.1 435.0,265.3 436.2,261.2 437.4,257.9 438.0,256.6 439.0,254.9"/>
<path class="b" stroke-width="7.2" stroke-dasharray="24.96 21.95" d="M439.0,254.9 439.9,253.7 440.5,253.1 441.3,252.8 441.7,252.7 442.3,252.8 443.1,253.2 444.2,254.4 445.4,256.5 446.1,258.3 447.8,263.2 449.8,270.9 452.1,281.9 454.1,293.1"/>
<path class="b" stroke-width="7.2" stroke-dasharray="25.86 22.74" d="M454.1,293.1 457.0,311.5 461.3,341.2"/>
<path class="b" stroke-width="7.2" stroke-dasharray="26.38 23.19" d="M461.3,341.2 465.6,370.5 468.8,390.2"/>
<path class="b" stroke-width="7.2" stroke-dasharray="26.49 23.29" d="M468.8,390.2 471.1,402.1 472.3,407.7 473.5,412.5 474.8,416.5 475.5,418.7 476.6,421.1 477.8,423.2 478.4,423.9 479.0,424.5 479.8,424.8 480.3,424.9 480.9,424.7 481.5,424.4 482.1,423.8 482.7,423.1 483.3,422.1 484.1,420.5 485.2,417.9 486.2,414.6"/>
<path class="b" stroke-width="7.2" stroke-dasharray="26.56 23.35" d="M486.2,414.6 488.2,407.1 489.4,401.5 490.7,395.3 493.1,381.3 495.6,365.6"/>
<path class="b" stroke-width="7.2" stroke-dasharray="26.15 22.99" d="M495.6,365.6 502.6,317.0"/>
<path class="b" stroke-width="7.2" stroke-dasharray="26.06 22.91" d="M502.6,317.0 504.9,301.9 507.2,288.2 509.2,277.7 511.2,268.8"/>
<path class="b" stroke-width="7.2" stroke-dasharray="25.21 22.17" d="M511.2,268.8 512.1,265.3 513.3,261.3 514.5,258.1 515.8,255.7 516.4,254.8 517.0,254.2 517.8,253.6 518.2,253.4 518.8,253.4 519.4,253.5 520.1,253.9 520.7,254.5 521.3,255.4 522.0,256.7 523.1,259.0 524.3,262.5 525.6,266.7 526.3,269.8 527.4,274.4 528.6,280.4"/>
<path class="b" stroke-width="7.2" stroke-dasharray="26.3 23.12" d="M528.6,280.4 530.5,290.4 532.3,301.5 536.4,329.2"/>
<path class="b" stroke-width="7.2" stroke-dasharray="25.83 22.71" d="M536.4,329.2 540.9,360.1 543.5,377.2"/>
<path class="b" stroke-width="7.2" stroke-dasharray="26.62 23.41" d="M543.5,377.2 545.1,387.4 547.0,397.5 548.4,404.3 550.0,411.4 551.4,416.2 553.1,420.7 553.7,422.0 554.5,423.3 555.5,424.6 556.2,425.1"/>
<path class="b" stroke-width="7.2" stroke-dasharray="25.84 22.72" d="M556.2,425.1 556.9,425.3 557.4,425.3 558.0,425.1 558.6,424.7 559.4,423.9 560.4,422.2 561.1,420.9 561.8,419.1 562.9,416.0 564.7,409.3 566.6,401.1 568.4,391.5 570.2,380.7"/>
<path class="b" stroke-width="7.2" stroke-dasharray="26.12 22.97" d="M570.2,380.7 573.3,360.8 577.4,332.1"/>
<path class="b" stroke-width="7.2" stroke-dasharray="25.67 22.57" d="M577.4,332.1 581.9,302.4 584.9,284.5"/>
<path class="b" stroke-width="7.2" stroke-dasharray="25.94 22.81" d="M584.9,284.5 586.1,278.2 587.4,272.6 588.6,267.6 589.8,263.3 591.0,259.9 591.8,258.2 592.9,256.3 593.5,255.4 594.1,254.8 594.7,254.4 595.3,254.2 596.1,254.3 596.6,254.5 597.2,254.9 597.8,255.6 598.4,256.5 599.6,258.9 600.4,260.8 601.4,263.9 602.5,267.7"/>
<path class="b" stroke-width="7.2" stroke-dasharray="26.41 23.22" d="M602.5,267.7 604.5,276.1 606.5,286.2 608.8,299.6 611.4,316.5"/>
<path class="b" stroke-width="7.2" stroke-dasharray="26.15 23" d="M611.4,316.5 618.4,365.2"/>
<path class="b" stroke-width="7.2" stroke-dasharray="25.73 22.62" d="M618.4,365.2 621.0,381.9 623.0,393.5 625.3,405.1 627.2,412.7"/>
<path class="b" stroke-width="7.2" stroke-dasharray="25.58 22.49" d="M627.2,412.7 628.4,416.9 629.1,419.1 630.2,421.7 631.4,423.9 632.1,424.7 632.7,425.3 633.4,425.8 633.9,425.9 634.5,425.8 635.1,425.5 635.7,425.1 636.3,424.4 636.9,423.5 637.7,422.0 638.8,419.5 640.0,415.9 641.2,411.5 642.5,406.4 644.6,395.9"/>
<path class="b" stroke-width="7.2" stroke-dasharray="26.17 23.01" d="M644.6,395.9 646.1,387.3 648.0,376.1 652.2,347.3"/>
<path class="b" stroke-width="7.2" stroke-dasharray="26.44 23.25" d="M652.2,347.3 655.3,325.4 658.7,298.0"/>
<path class="b" stroke-width="7.2" stroke-dasharray="25.99 22.85" d="M658.7,298.0 659.7,290.0 661.0,281.9 662.2,274.8 663.4,268.7 664.6,263.7 666.3,258.0 667.7,254.2 669.4,250.6"/>
<path class="b" stroke-width="7.2" stroke-dasharray="30.39 26.72" d="M669.4,250.6 670.0,249.8 670.1,249.8 670.6,250.5 671.2,253.3 672.0,258.7 674.3,277.6 675.0,282.2 675.5,284.2 676.1,285.8 676.7,286.5 676.9,286.5 677.3,286.3 677.5,286.2 678.1,285.2 678.6,284.2 679.2,282.3 680.4,277.8 681.0,275.9 681.6,274.8 681.8,274.7 682.2,274.8 682.8,275.9 683.8,279.2"/>
<path class="b" stroke-width="7.2" stroke-dasharray="26.64 23.43" d="M683.8,279.2 684.7,283.8 685.5,288.7 690.8,328.7"/>
<path class="b" stroke-width="7.2" stroke-dasharray="26.11 22.96" d="M690.8,328.7 692.6,340.9 694.5,352.4 696.9,366.9 698.8,377.1"/>
<path class="b" stroke-width="7.2" stroke-dasharray="24.25 21.32" d="M698.8,377.1 701.4,390.3 703.7,400.8 705.0,406.0 706.1,409.3 706.7,410.8 707.5,412.3 708.6,413.8 709.3,414.4 709.8,414.5 710.4,414.6 711.2,414.3 712.2,413.5 713.0,412.6 714.1,410.9"/>
<path class="b" stroke-width="7.2" stroke-dasharray="26.03 22.89" d="M714.1,410.9 715.3,408.2 716.5,404.8 717.7,400.6 719.1,395.0 720.3,389.3 722.0,380.6 724.9,363.4"/>
<path class="b" stroke-width="7.2" stroke-dasharray="26.27 23.1" d="M724.9,363.4 727.5,346.2 732.1,314.5"/>
<path class="b" stroke-width="7.2" stroke-dasharray="25.94 22.81" d="M732.1,314.5 734.4,299.1 736.7,284.7 738.5,274.2 740.1,266.4"/>
<path class="b" stroke-width="7.2" stroke-dasharray="25.84 22.72" d="M740.1,266.4 741.1,261.5 742.4,256.5 743.4,252.8 744.7,249.2 745.9,246.4 747.1,244.4 747.7,243.7 748.3,243.2 749.1,242.9 749.6,242.9 750.2,243.1 750.8,243.4 751.4,244.0 752.6,245.8 753.4,247.3 754.5,250.0 755.7,253.8 756.9,258.4 758.0,262.9"/>
<path class="b" stroke-width="7.2" stroke-dasharray="26.17 23.01" d="M758.0,262.9 760.0,272.6 761.8,282.9 763.8,295.1 766.2,311.4"/>
<path class="b" stroke-width="7.2" stroke-dasharray="25.82 22.7" d="M766.2,311.4 773.3,359.4"/>
<path class="b" stroke-width="7.2" stroke-dasharray="26.89 23.64" d="M773.3,359.4 776.5,378.8 778.9,391.3 780.3,397.3 781.5,401.9 782.8,405.7 784.0,408.7"/>
<path class="b" stroke-width="7.2" stroke-dasharray="24.39 21.44" d="M784.0,408.7 785.1,410.7 785.8,411.7 786.9,412.7 787.7,412.9 788.1,412.9 788.7,412.7 789.3,412.3 790.0,411.7 790.7,410.7 791.8,408.6 792.6,406.8 793.6,403.7 794.9,399.5 795.6,396.5 797.5,388.2 799.7,376.0"/>
<path class="b" stroke-width="7.2" stroke-dasharray="26.41 23.22" d="M799.7,376.0 803.0,356.1 807.2,326.9"/>
<path class="b" stroke-width="7.2" stroke-dasharray="25.75 22.64" d="M807.2,326.9 811.4,298.8 814.6,279.1"/>
<path class="b" stroke-width="7.2" stroke-dasharray="25.41 22.35" d="M814.6,279.1 816.9,266.9 818.9,258.2 820.1,253.6 821.2,250.3 821.9,248.3 823.2,245.8 824.2,244.2 825.0,243.4 825.6,243.1 826.2,242.9 826.7,242.9 827.3,243.2 827.9,243.6 828.5,244.3 829.3,245.4 830.3,247.4 831.3,249.7"/>
<path class="b" stroke-width="7.2" stroke-dasharray="26.46 23.26" d="M831.3,249.7 832.3,252.9 833.6,257.3 834.6,261.7 835.9,267.4 838.5,281.3 841.2,298.4"/>
<path class="b" stroke-width="7.2" stroke-dasharray="25.87 22.75" d="M841.2,298.4 848.2,346.5"/>
<path class="b" stroke-width="7.2" stroke-dasharray="26.17 23.01" d="M848.2,346.5 850.7,362.6 853.0,376.5 854.8,386.4 856.7,394.9"/>
<path class="b" stroke-width="7.2" stroke-dasharray="25.94 22.81" d="M856.7,394.9 857.9,399.8 859.1,404.0 860.3,407.4 861.1,409.1 862.3,411.2 863.4,412.4 864.2,412.8 864.8,412.9 865.4,412.8 866.0,412.5 866.6,412.0 867.7,410.6 868.4,409.2 869.7,406.3 870.9,402.6 872.1,398.1 873.3,393.0 874.6,387.2"/>
<path class="b" stroke-width="7.2" stroke-dasharray="26.4 23.21" d="M874.6,387.2 876.2,378.3 878.1,367.5 880.1,354.8 882.5,338.3"/>
<path class="b" stroke-width="7.2" stroke-dasharray="26.09 22.95" d="M882.5,338.3 886.8,308.7 889.7,289.7"/>
<path class="b" stroke-width="7.2" stroke-dasharray="26.2 23.04" d="M889.7,289.7 891.6,278.8 893.4,269.0 895.2,260.5 896.6,255.1 898.3,249.8 899.7,246.5 900.3,245.4 901.3,243.9 902.1,243.3 902.7,243.0"/>
<path class="b" stroke-width="7.2" stroke-dasharray="25.84 22.72" d="M902.7,243.0 903.3,242.9 903.9,243.0 904.4,243.3 905.2,243.9 905.8,244.7 906.9,246.6 907.6,248.3 909.3,253.1 910.7,258.1 912.5,266.1 914.3,275.5 916.5,288.0"/>
<path class="b" stroke-width="7.2" stroke-dasharray="25.98 22.85" d="M916.5,288.0 919.2,305.8 923.7,336.3"/>
<path class="b" stroke-width="7.2" stroke-dasharray="26.25 23.09" d="M923.7,336.3 927.8,363.9 929.6,375.0 931.5,385.0"/>
<path class="b" stroke-width="7.2" stroke-dasharray="25.6 22.51" d="M931.5,385.0 932.7,391.0 933.9,396.4 935.2,401.1 936.2,404.6 937.5,407.8 938.7,410.3 939.4,411.5 940.1,412.2 940.5,412.5 941.3,412.9 941.9,412.9 942.5,412.8 943.1,412.4 943.7,411.8 944.8,410.2 945.6,408.7 946.8,405.7 948.0,401.8 949.1,397.7"/>
<path class="b" stroke-width="7.2" stroke-dasharray="25.95 22.82" d="M949.1,397.7 951.1,388.8 952.9,379.0 955.2,365.1 957.5,349.7"/>
<path class="b" stroke-width="7.2" stroke-dasharray="26.4 23.21" d="M957.5,349.7 964.4,300.6"/>
<path class="b" stroke-width="7.2" stroke-dasharray="25.86 22.74" d="M964.4,300.6 966.8,284.1 968.8,271.9 970.7,261.9 972.6,252.7"/>
<path class="b" stroke-width="7.2" stroke-dasharray="27.43 24.12" d="M972.6,252.7 973.7,248.5 974.9,244.5 976.2,241.3 977.2,239.2 978.0,238.0 978.6,237.3 979.2,236.8 979.8,236.6 980.4,236.6 981.1,236.8 981.7,237.2 982.3,237.8 982.9,238.6 984.0,240.6 984.7,242.3 986.0,245.8 987.2,250.1 988.4,255.1 989.6,260.7 990.9,267.0"/>
<path class="b" stroke-width="7.2" stroke-dasharray="26.21 23.05" d="M990.9,267.0 992.7,277.4 994.4,287.8 998.5,315.6"/>
<path class="b" stroke-width="7.2" stroke-dasharray="25.96 22.83" d="M998.5,315.6 1002.9,346.2 1005.7,363.9"/>
<path class="b" stroke-width="7.2" stroke-dasharray="26.18 23.02" d="M1005.7,363.9 1007.8,376.2 1009.8,386.1 1011.7,393.8 1013.5,399.8 1014.6,402.6 1015.3,404.2 1016.4,405.8 1017.2,406.6 1017.8,407.0 1018.2,407.2 1019.0,407.2 1019.6,407.0 1020.1,406.6 1021.0,405.6"/>
<path class="b" stroke-width="7.2" stroke-dasharray="26.62 23.41" d="M1021.0,405.6 1021.9,404.2 1022.5,402.9 1023.7,399.9 1025.1,395.5 1026.3,390.8 1028.0,383.2 1029.4,376.2 1031.1,366.6 1032.6,357.2"/>
<path class="b" stroke-width="7.2" stroke-dasharray="25.8 22.68" d="M1032.6,357.2 1035.4,339.0 1039.7,309.2"/>
<path class="b" stroke-width="7.2" stroke-dasharray="25.78 22.67" d="M1039.7,309.2 1042.1,292.7 1044.1,280.1 1045.9,269.4 1047.5,261.4"/>
<path class="b" stroke-width="7.2" stroke-dasharray="25.64 22.55" d="M1047.5,261.4 1048.8,255.0 1050.1,250.0 1050.8,247.3 1052.1,243.5 1053.3,240.5 1054.3,238.5 1055.1,237.5 1055.7,236.9 1056.3,236.6 1057.0,236.4 1057.6,236.5 1058.2,236.7 1058.6,237.1 1059.4,237.9 1060.6,239.9 1061.8,242.8 1062.9,245.9 1064.1,250.2 1065.2,254.6"/>
<path class="b" stroke-width="7.2" stroke-dasharray="25.74 22.63" d="M1065.2,254.6 1067.2,264.0 1069.0,274.0 1071.0,286.1 1073.5,302.2"/>
<path class="b" stroke-width="7.2" stroke-dasharray="26.55 23.34" d="M1073.5,302.2 1080.7,351.6"/>
<path class="b" stroke-width="7.2" stroke-dasharray="26.07 22.92" d="M1080.7,351.6 1083.3,367.8 1085.7,381.2 1086.9,387.0 1088.2,392.2 1089.4,396.7 1090.3,399.6"/>
<path class="b" stroke-width="7.2" stroke-dasharray="25.07 22.05" d="M1090.3,399.6 1091.2,402.0 1092.4,404.5 1093.5,406.0 1094.3,406.8 1094.9,407.1 1095.5,407.2 1096.1,407.1 1096.6,406.9 1097.3,406.3 1098.0,405.6 1098.6,404.6 1099.6,402.5 1100.4,400.6 1101.6,396.9 1102.7,393.0 1104.7,384.5 1107.0,372.6"/>
<path class="b" stroke-width="7.2" stroke-dasharray="26.23 23.07" d="M1107.0,372.6 1110.2,353.0 1114.5,323.8"/>
<path class="b" stroke-width="7.2" stroke-dasharray="26.14 22.99" d="M1114.5,323.8 1118.8,294.4 1121.8,275.3"/>
<path class="b" stroke-width="7.2" stroke-dasharray="25.79 22.68" d="M1121.8,275.3 1124.1,262.7 1126.1,253.5 1127.3,248.7 1128.4,245.2 1129.2,243.0 1130.4,240.1 1131.5,238.3 1132.2,237.3 1132.8,236.8 1133.3,236.6 1134.1,236.4 1134.7,236.5 1135.1,236.8 1135.9,237.4 1137.1,239.2 1138.2,241.4"/>
<path class="b" stroke-width="7.2" stroke-dasharray="26.13 22.98" d="M1138.2,241.4 1139.6,245.1 1140.6,248.7 1142.0,254.1 1143.1,258.9 1144.5,265.8 1145.7,272.5 1148.4,289.3"/>
<path class="b" stroke-width="7.2" stroke-dasharray="26.47 23.28" d="M1148.4,289.3 1150.6,303.5 1155.6,338.5"/>
<path class="b" stroke-width="7.2" stroke-dasharray="25.9 22.77" d="M1155.6,338.5 1157.9,353.9 1160.2,368.1 1162.2,379.1 1163.7,386.5"/>
<path class="b" stroke-width="7.2" stroke-dasharray="25.92 22.79" d="M1163.7,386.5 1164.7,390.5 1165.9,395.3 1167.1,399.2 1168.3,402.4 1169.6,404.8 1170.6,406.3 1171.4,406.9 1172.0,407.2 1172.6,407.2 1173.2,407.1 1173.8,406.7 1174.9,405.5 1175.7,404.3 1176.9,401.7 1178.1,398.2 1179.4,394.0 1180.6,389.1 1181.7,384.3"/>
<path class="b" stroke-width="7.2" stroke-dasharray="25.89 22.77" d="M1181.7,384.3 1183.5,374.9 1185.3,364.3 1187.3,351.7 1189.6,336.3"/>
<path class="b" stroke-width="7.2" stroke-dasharray="26.39 23.21" d="M1189.6,336.3 1194.0,305.5 1196.8,287.2"/>
<path class="b" stroke-width="7.2" stroke-dasharray="26.61 23.4" d="M1196.8,287.2 1198.3,277.7 1200.0,268.1 1201.4,261.0 1202.6,255.3 1204.3,248.6 1205.5,244.5 1206.9,241.0 1208.1,238.7"/>
<path class="b" stroke-width="7.2" stroke-dasharray="24.25 21.33" d="M1208.1,238.7 1209.2,237.3 1210.0,236.7 1210.6,236.4 1211.0,236.4 1211.8,236.6 1212.4,237.0 1212.9,237.5 1213.6,238.5 1214.7,240.4 1215.5,242.2 1216.5,245.2 1217.3,247.7 1219.1,254.9 1221.0,263.6 1223.1,275.4"/>
<path class="b" stroke-width="7.2" stroke-dasharray="26.72 23.5" d="M1223.1,275.4 1226.3,295.6 1230.6,325.1"/>
<path class="b" stroke-width="7.2" stroke-dasharray="25.64 22.55" d="M1230.6,325.1 1234.9,354.1 1238.0,372.7"/>
<path class="b" stroke-width="7.2" stroke-dasharray="26.09 22.94" d="M1238.0,372.7 1240.4,385.3 1242.4,393.7 1243.6,398.0 1244.7,401.1 1245.5,402.9 1246.7,405.1 1247.3,406.0 1247.9,406.6 1248.5,407.0 1249.0,407.2 1249.7,407.2 1250.4,407.0 1251.0,406.5 1251.6,405.9 1252.2,405.0 1253.3,403.0 1254.0,401.2 1255.2,397.6"/>
<path class="b" stroke-width="7.2" stroke-dasharray="26.15 22.99" d="M1255.2,397.6 1257.1,390.9 1258.3,385.5 1259.5,379.5 1262.0,365.8 1264.6,349.4"/>
<path class="b" stroke-width="7.2" stroke-dasharray="26.02 22.88" d="M1264.6,349.4 1271.6,301.0"/>
<path class="b" stroke-width="7.2" stroke-dasharray="25.86 22.74" d="M1271.6,301.0 1274.1,285.0 1276.1,273.0 1277.9,263.0 1280.0,253.2"/>
<path class="b" stroke-width="7.2" stroke-dasharray="26.19 23.03" d="M1280.0,253.2 1281.0,249.5 1282.2,245.4 1283.4,242.0 1284.6,239.3 1285.8,237.5 1286.5,236.9 1286.9,236.7 1287.7,236.4 1288.3,236.5 1288.9,236.7 1289.5,237.2 1290.1,237.9 1291.2,239.6 1292.0,241.2 1293.2,244.4 1294.4,248.4 1295.6,253.2 1297.9,263.9"/>
<path class="b" stroke-width="7.2" stroke-dasharray="26.26 23.09" d="M1297.9,263.9 1299.3,271.3 1301.1,282.1 1303.0,293.9 1305.7,312.6"/>
<path class="b" stroke-width="7.2" stroke-dasharray="26.15 22.99" d="M1305.7,312.6 1310.3,344.3 1312.9,361.2"/>
<path class="b" stroke-width="7.2" stroke-dasharray="26.01 22.87" d="M1312.9,361.2 1314.6,371.2 1316.4,381.1 1318.3,389.6 1320.1,396.6 1321.3,400.3 1322.4,402.9 1323.2,404.5 1324.3,406.0 1325.0,406.8 1325.6,407.1 1326.2,407.1"/>
<path class="b" stroke-width="7.2" stroke-dasharray="24.87 21.87" d="M1326.2,407.1 1326.9,406.7 1327.3,406.1 1328.1,404.6 1328.7,402.9 1329.3,400.8 1330.4,396.3 1331.8,389.5 1333.0,382.8 1336.3,361.9"/>
<path class="b" stroke-width="7.2" stroke-dasharray="26.24 23.07" d="M1336.3,361.9 1338.5,347.3 1343.2,313.0"/>
<path class="b" stroke-width="7.2" stroke-dasharray="27.5 24.18" d="M1343.2,313.0 1345.2,299.7 1347.7,284.7 1350.0,272.4 1352.1,262.1"/>
<path class="b" stroke-width="7.2" stroke-dasharray="33.66 29.6" d="M1352.1,262.1 1353.8,255.4 1354.4,253.9 1355.0,253.9 1355.6,255.2 1356.2,257.6 1356.8,260.8 1358.5,271.1 1359.1,273.8 1359.3,274.4 1359.9,275.7 1360.5,275.7 1361.1,274.6 1361.7,272.5 1362.4,269.7 1363.0,266.1 1364.8,252.3 1365.9,245.2"/>
<path class="b" stroke-width="7.2" stroke-dasharray="25.92 22.79" d="M1365.9,245.2 1366.6,241.8 1367.2,240.4 1367.9,239.9 1368.5,240.4 1369.1,241.6 1369.7,243.4 1370.9,247.8 1372.8,256.3 1375.2,269.6 1377.2,281.5"/>
<path class="b" stroke-width="7.2" stroke-dasharray="25.68 22.58" d="M1377.2,281.5 1380.1,300.5 1384.2,329.3"/>
<path class="b" stroke-width="7.2" stroke-dasharray="25.84 22.72" d="M1384.2,329.3 1388.5,358.5 1391.6,377.2"/>
<path class="b" stroke-width="7.2" stroke-dasharray="26.06 22.91" d="M1391.6,377.2 1394.0,390.0 1396.0,398.7 1397.8,404.9 1399.1,408.1 1400.3,410.5 1400.9,411.4 1401.5,412.1 1402.1,412.6 1402.6,412.8 1403.4,412.9 1404.0,412.8 1404.6,412.4 1405.7,411.3 1406.4,410.1 1407.6,407.5 1408.7,404.5"/>
<path class="b" stroke-width="7.2" stroke-dasharray="25.9 22.77" d="M1408.7,404.5 1409.5,402.1 1410.7,397.6 1411.9,392.3 1413.2,386.5 1415.6,373.0 1418.2,356.8"/>
<path class="b" stroke-width="7.2" stroke-dasharray="26.44 23.25" d="M1418.2,356.8 1425.4,307.7"/>
<path class="b" stroke-width="7.2" stroke-dasharray="25.84 22.72" d="M1425.4,307.7 1427.8,291.7 1429.7,280.6 1431.5,270.5 1433.8,259.9"/>
<path class="b" stroke-width="7.2" stroke-dasharray="26.05 22.91" d="M1433.8,259.9 1435.8,252.5 1437.0,249.0 1438.2,246.3 1439.5,244.3 1440.1,243.6 1440.5,243.3 1441.3,242.9 1441.9,242.9 1442.5,243.1 1443.1,243.5 1443.8,244.1 1444.4,244.9 1445.6,247.2 1446.8,250.3 1448.0,254.1 1449.3,258.7 1450.5,264.0 1451.7,269.9"/>
<path class="b" stroke-width="7.2" stroke-dasharray="26.08 22.94" d="M1451.7,269.9 1453.5,279.8 1455.4,290.8 1459.5,318.3"/>
<path class="b" stroke-width="7.2" stroke-dasharray="26.05 22.91" d="M1459.5,318.3 1463.9,348.9 1466.7,366.7"/>
<path class="b" stroke-width="7.2" stroke-dasharray="26.02 22.88" d="M1466.7,366.7 1468.8,379.3 1470.7,388.9 1472.5,397.0 1473.7,401.6 1475.6,407.1 1476.8,409.8 1477.4,410.8 1478.0,411.7 1478.6,412.3 1479.2,412.7 1479.9,412.9"/>
<path class="b" stroke-width="7.2" stroke-dasharray="26.03 22.88" d="M1479.9,412.9 1480.5,412.9 1481.1,412.7 1481.7,412.3 1482.3,411.6 1482.9,410.8 1483.7,409.4 1484.8,407.0 1486.6,401.4 1487.8,396.8 1489.7,388.5 1491.5,378.9 1493.5,367.2"/>
<path class="b" stroke-width="7.2" stroke-dasharray="26.02 22.88" d="M1493.5,367.2 1496.4,348.4 1500.7,318.9"/>
<path class="b" stroke-width="7.2" stroke-dasharray="26.16 23" d="M1500.7,318.9 1505.0,290.4 1506.8,279.4 1508.5,270.3"/>
<path class="b" stroke-width="7.2" stroke-dasharray="26.1 22.95" d="M1508.5,270.3 1510.5,261.0 1511.7,256.0 1512.9,251.9 1514.1,248.5 1515.4,245.9 1516.0,244.9 1516.6,244.0 1517.2,243.5 1517.8,243.1 1518.4,242.9 1519.0,242.9 1519.8,243.3 1520.3,243.7 1520.9,244.3 1522.1,246.3 1522.9,248.0 1523.9,250.8 1525.2,254.8 1526.4,259.5"/>
<path class="b" stroke-width="7.2" stroke-dasharray="26.27 23.1" d="M1526.4,259.5 1528.2,267.8 1530.0,277.5 1532.5,292.1 1534.9,308.1"/>
<path class="b" stroke-width="7.2" stroke-dasharray="25.89 22.77" d="M1534.9,308.1 1542.0,356.3"/>
<path class="b" stroke-width="7.2" stroke-dasharray="25.53 22.45" d="M1542.0,356.3 1544.7,373.4 1546.7,384.5 1549.0,395.3 1550.2,400.2 1551.2,403.3"/>
<path class="b" stroke-width="7.2" stroke-dasharray="26.42 23.23" d="M1551.2,403.3 1552.1,406.1 1553.3,409.0 1554.5,411.1 1555.1,411.9 1555.8,412.5 1556.4,412.8 1557.1,412.9 1557.6,412.9 1558.2,412.6 1558.8,412.1 1559.4,411.4 1560.6,409.3 1561.4,407.6 1562.5,404.7 1563.7,400.7 1564.9,395.9 1566.2,390.5 1568.6,377.8"/>
<path class="b" stroke-width="7.2" stroke-dasharray="25.63 22.53" d="M1568.6,377.8 1571.7,359.2 1575.9,330.2"/>
<path class="b" stroke-width="7.2" stroke-dasharray="26.53 23.32" d="M1575.9,330.2 1580.2,300.9 1583.4,281.0"/>
<path class="b" stroke-width="7.2" stroke-dasharray="25.5 22.42" d="M1583.4,281.0 1585.7,268.6 1587.7,259.5 1588.8,255.3 1590.0,251.3 1590.8,249.2 1591.9,246.7 1592.6,245.3 1593.7,243.8 1594.3,243.3 1594.9,243.0 1595.7,242.9 1596.1,243.0 1596.8,243.3 1597.4,243.9 1598.0,244.6 1598.7,245.9 1599.8,248.1"/>
<path class="b" stroke-width="7.2" stroke-dasharray="26.25 23.08" d="M1599.8,248.1 1601.0,251.4 1602.3,255.5 1603.5,260.3 1604.7,265.8 1607.2,278.6 1610.1,296.3"/>
<path class="b" stroke-width="7.2" stroke-dasharray="26.37 23.19" d="M1610.1,296.3 1617.3,345.3"/>
<path class="b" stroke-width="7.2" stroke-dasharray="26.03 22.89" d="M1617.3,345.3 1619.6,360.5 1621.9,374.6 1623.7,384.7 1625.5,393.5"/>
<path class="b" stroke-width="7.2" stroke-dasharray="25.85 22.73" d="M1625.5,393.5 1626.7,398.6 1628.0,403.0 1629.2,406.5 1630.4,409.4 1631.6,411.4 1632.3,412.1 1632.9,412.6 1633.6,412.9 1634.1,413.0 1634.7,412.8 1635.3,412.4 1635.9,411.9 1636.7,410.9 1637.8,408.9 1639.0,405.9 1640.2,402.2 1641.4,397.6 1643.4,388.8"/>
<path class="b" stroke-width="7.2" stroke-dasharray="26.06 22.92" d="M1643.4,388.8 1645.1,380.1 1646.9,369.5 1648.8,358.0 1651.4,340.5"/>
<path class="b" stroke-width="7.2" stroke-dasharray="26.21 23.04" d="M1651.4,340.5 1656.1,307.8 1658.6,291.8"/>
<path class="b" stroke-width="7.2" stroke-dasharray="26.62 23.41" d="M1658.6,291.8 1660.4,280.7 1662.2,270.7 1664.1,261.9 1665.3,256.9 1666.5,252.5 1667.8,249.0 1668.5,247.3 1669.6,245.2 1670.2,244.3 1670.8,243.6"/>
<path class="b" stroke-width="7.2" stroke-dasharray="25.45 22.38" d="M1670.8,243.6 1671.6,243.1 1672.0,242.9 1672.6,242.9 1673.3,243.1 1674.0,243.6 1675.1,244.9 1675.7,245.9 1676.5,247.5 1677.5,250.2 1679.4,256.2 1681.2,263.9 1683.1,272.9 1685.3,286.0"/>
<path class="b" stroke-width="7.2" stroke-dasharray="25.84 22.72" d="M1685.3,286.0 1688.1,303.6 1692.5,334.0"/>
<path class="b" stroke-width="7.2" stroke-dasharray="26.11 22.96" d="M1692.5,334.0 1696.7,361.8 1698.4,372.1 1700.2,382.5"/>
<path class="b" stroke-width="7.2" stroke-dasharray="26.14 22.99" d="M1700.2,382.5 1701.4,388.7 1702.6,394.4 1703.9,399.3 1705.1,403.6 1706.3,407.1 1707.1,408.8 1708.1,410.8 1708.8,411.6 1709.4,412.3 1710.0,412.7 1710.6,412.9 1711.4,412.9 1711.8,412.7 1712.4,412.3 1713.0,411.6 1713.7,410.8 1714.9,408.5 1715.6,406.6 1716.7,403.5 1717.9,399.2"/>
<path class="b" stroke-width="7.2" stroke-dasharray="26.32 23.15" d="M1717.9,399.2 1719.9,390.8 1722.2,379.0 1724.2,367.4 1726.8,350.6"/>
<path class="b" stroke-width="7.2" stroke-dasharray="25.92 22.8" d="M1726.8,350.6 1733.9,302.4"/>
<path class="b" stroke-width="7.2" stroke-dasharray="25.95 22.82" d="M1733.9,302.4 1736.3,286.8 1738.7,272.8 1740.7,263.1 1741.8,258.5 1742.9,254.5"/>
<path class="b" stroke-width="7.2" stroke-dasharray="26.23 23.07" d="M1742.9,254.5 1743.8,251.5 1745.0,248.2 1746.1,245.9 1747.3,244.1 1747.9,243.5 1748.5,243.1 1749.3,242.9 1749.8,242.9 1750.4,243.2 1751.0,243.7 1751.6,244.3 1752.8,246.3 1753.6,247.9 1754.7,250.8 1755.9,254.7 1757.1,259.4 1758.3,264.8 1760.5,275.7"/>
<path class="b" stroke-width="7.2" stroke-dasharray="25.88 22.75" d="M1760.5,275.7 1762.0,284.4 1763.8,295.8 1768.0,323.7"/>
<path class="b" stroke-width="7.2" stroke-dasharray="26.2 23.03" d="M1768.0,323.7 1772.4,354.1 1775.3,372.4"/>
<path class="b" stroke-width="7.2" stroke-dasharray="25.57 22.48" d="M1775.3,372.4 1777.5,384.3 1779.8,395.2 1781.6,402.3 1782.4,404.7 1783.4,407.5 1784.2,409.2 1785.3,411.1 1786.0,412.0 1786.5,412.4 1787.1,412.8 1787.9,412.9 1788.3,412.9 1788.9,412.6 1789.5,412.1 1790.2,411.4 1791.1,409.9"/>
<path class="b" stroke-width="7.2" stroke-dasharray="26.06 22.91" d="M1791.1,409.9 1792.0,408.0 1792.6,406.5 1793.8,402.9 1795.1,398.5 1796.3,393.4 1797.5,387.7 1798.9,380.5 1801.9,362.3"/>
<path class="b" stroke-width="7.2" stroke-dasharray="26.28 23.11" d="M1801.9,362.3 1804.4,346.2 1809.1,313.5"/>
<path class="b" stroke-width="7.2" stroke-dasharray="26.16 23" d="M1809.1,313.5 1811.6,297.1 1813.4,285.6 1815.3,275.1 1817.2,265.0"/>
<path class="b" stroke-width="7.2" stroke-dasharray="25.81 22.69" d="M1817.2,265.0 1818.3,260.2 1819.5,255.4 1820.8,251.3 1822.0,248.1 1823.2,245.6 1824.4,243.9 1825.2,243.2 1825.7,243.0 1826.3,242.9 1826.9,243.0 1827.5,243.3 1828.3,244.0 1829.3,245.5 1830.6,248.0 1831.8,251.4 1833.0,255.4 1834.2,260.2 1835.1,264.3"/>
<path class="b" stroke-width="7.2" stroke-dasharray="26.54 23.33" d="M1835.1,264.3 1837.3,275.1 1839.1,285.6 1841.0,297.1 1843.4,313.5"/>
<path class="b" stroke-width="7.2" stroke-dasharray="25.75 22.65" d="M1843.4,313.5 1847.8,344.1 1850.4,361.3"/>
<path class="b" stroke-width="7.2" stroke-dasharray="26.4 23.22" d="M1850.4,361.3 1853.4,378.8 1855.0,387.7 1856.3,393.4 1857.5,398.5 1858.7,402.9 1859.9,406.5 1861.3,409.6"/>
<path class="b" stroke-width="7.2" stroke-dasharray="26.24 23.07" d="M1861.3,409.6 1862.4,411.4 1863.0,412.1 1863.6,412.6 1864.4,412.9 1864.8,412.9 1865.4,412.8 1866.2,412.3 1867.3,411.1 1868.0,409.9 1869.1,407.6 1869.9,405.5 1870.9,402.2 1872.9,394.5 1875.2,383.5 1877.4,371.5"/>
<path class="b" stroke-width="7.2" stroke-dasharray="25.7 22.6" d="M1877.4,371.5 1880.3,353.1 1884.6,323.7"/>
<path class="b" stroke-width="7.2" stroke-dasharray="25.88 22.76" d="M1884.6,323.7 1888.7,295.8 1890.5,284.4 1892.1,275.7"/>
<path class="b" stroke-width="7.2" stroke-dasharray="26.24 23.07" d="M1892.1,275.7 1894.4,264.1 1895.4,259.4 1896.7,254.7 1897.9,250.8 1898.6,248.7 1899.7,246.3 1900.9,244.3 1901.5,243.7 1902.2,243.2 1902.9,242.9 1903.4,242.9 1904.0,243.1 1904.6,243.5 1905.2,244.1 1906.4,245.9 1907.7,248.5 1908.9,252.0 1909.7,254.5"/>
<path class="b" stroke-width="7.2" stroke-dasharray="25.95 22.82" d="M1909.7,254.5 1911.5,261.7 1913.8,272.8 1916.2,286.8 1918.7,302.4"/>
<path class="b" stroke-width="7.2" stroke-dasharray="26.47 23.28" d="M1918.7,302.4 1925.9,351.6"/>
<path class="b" stroke-width="7.2" stroke-dasharray="25.78 22.67" d="M1925.9,351.6 1928.5,368.3 1930.5,379.9 1932.8,391.5 1934.6,399.3"/>
<path class="b" stroke-width="7.2" stroke-dasharray="26.14 22.98" d="M1934.6,399.3 1935.8,403.6 1936.6,405.8 1937.8,408.7 1939.0,411.0 1940.1,412.3 1940.7,412.7 1941.3,412.9 1941.9,412.9 1942.6,412.7 1943.3,412.2 1944.4,410.8 1945.6,408.5 1946.8,405.4 1947.6,403.1 1948.7,399.3 1949.9,394.4 1951.1,388.7 1952.3,382.5"/>
<path class="b" stroke-width="7.2" stroke-dasharray="25.54 22.46" d="M1952.3,382.5 1953.7,374.8 1955.6,363.7 1959.8,335.1"/>
<path class="b" stroke-width="7.2" stroke-dasharray="26.41 23.22" d="M1959.8,335.1 1964.1,305.6 1967.2,286.0"/>
<path class="b" stroke-width="7.2" stroke-dasharray="23.39 20.57" d="M1967.2,286.0 1968.9,276.3 1970.2,269.0 1971.9,261.1 1973.2,256.2 1974.4,252.0 1975.8,248.2 1977.0,245.7 1977.6,244.7 1978.4,243.8"/>
<path class="b" stroke-width="7.2" stroke-dasharray="28.67 25.21" d="M1978.4,243.8 1979.3,243.1 1980.0,242.9 1980.5,242.9 1981.1,243.2 1981.9,243.8 1982.9,245.2 1983.7,246.6 1984.8,249.0 1985.5,251.2 1987.4,257.5 1988.5,261.9 1989.7,267.6 1991.7,278.1 1994.0,291.8"/>
<path class="b" stroke-width="7.2" stroke-dasharray="26.2 23.04" d="M1994.0,291.8 1996.6,308.8 2001.2,340.5"/>
<path class="b" stroke-width="7.2" stroke-dasharray="26.06 22.92" d="M2001.2,340.5 2003.8,358.0 2005.6,369.5 2007.4,380.1 2009.1,388.8"/>
<path class="b" stroke-width="7.2" stroke-dasharray="25.49 22.42" d="M2009.1,388.8 2011.3,398.3 2012.3,402.2 2013.5,405.9 2014.8,408.9 2016.0,411.1 2016.6,411.8 2017.2,412.4 2018.0,412.8 2018.4,412.9 2019.1,412.9 2019.7,412.6 2020.3,412.1 2020.9,411.4 2021.5,410.5 2022.3,409.1 2023.3,406.6 2024.6,402.9 2025.8,398.6 2026.9,394.2"/>
<path class="b" stroke-width="7.2" stroke-dasharray="26.95 23.7" d="M2026.9,394.2 2028.8,384.7 2030.7,374.6 2032.7,362.5 2035.4,344.3"/>
<path class="b" stroke-width="7.2" stroke-dasharray="25.81 22.7" d="M2035.4,344.3 2042.5,296.3"/>
<path class="b" stroke-width="7.2" stroke-dasharray="26.61 23.4" d="M2042.5,296.3 2045.4,278.6 2048.0,265.1 2049.2,259.7 2050.4,254.9 2051.6,251.0 2053.0,247.5"/>
<path class="b" stroke-width="7.2" stroke-dasharray="25.13 22.1" d="M2053.0,247.5 2054.1,245.4 2055.2,243.9 2055.9,243.3 2056.4,243.0 2057.0,242.9 2057.8,243.1 2058.2,243.3 2058.8,243.8 2059.6,244.8 2060.7,246.6 2061.4,248.4 2062.5,251.3 2063.7,255.3 2064.5,258.3 2065.6,262.8 2066.8,268.6 2069.1,281.0"/>
<path class="b" stroke-width="7.2" stroke-dasharray="26.52 23.32" d="M2069.1,281.0 2072.3,301.0 2076.6,330.2"/>
<path class="b" stroke-width="7.2" stroke-dasharray="25.62 22.53" d="M2076.6,330.2 2080.9,359.2 2083.9,377.8"/>
<path class="b" stroke-width="7.2" stroke-dasharray="25.89 22.77" d="M2083.9,377.8 2086.4,390.5 2088.4,399.0 2089.6,403.3 2090.7,406.5 2091.4,408.3 2092.7,410.6 2093.7,412.1 2094.5,412.7 2094.9,412.9 2095.6,412.9 2096.2,412.8 2096.8,412.5 2097.4,411.9 2098.0,411.2 2098.8,409.9 2099.8,407.6 2101.1,404.3"/>
<path class="b" stroke-width="7.2" stroke-dasharray="26.6 23.39" d="M2101.1,404.3 2101.8,401.8 2103.1,397.2 2104.3,391.9 2105.5,386.0 2108.0,372.5 2110.7,355.2"/>
<path class="b" stroke-width="7.2" stroke-dasharray="25.91 22.78" d="M2110.7,355.2 2117.7,307.1"/>
<path class="b" stroke-width="7.2" stroke-dasharray="26.1 22.95" d="M2117.7,307.1 2120.5,289.2"/>
</g>
<g id="curves2">
<path class="r" stroke-width="5.8" d="M196.9,1052.4 198.1,1000.3 198.7,984.9 199.3,973.1 200.6,954.8 202.4,932.6 204.2,911.7 206.1,893.6 207.3,883.2 209.8,865.5 211.6,854.0 212.8,847.7 214.0,842.9 215.9,837.6 217.7,832.7 218.9,829.9 220.2,827.6 221.4,825.8 222.0,825.1 222.6,824.7 223.2,824.4 223.8,824.4 224.4,824.6 225.1,825.0 225.7,825.6 226.3,826.4 227.5,828.5 229.3,832.8 231.2,838.0 234.9,849.7 236.1,854.2 237.3,859.7 238.5,866.1 244.0,897.2 248.9,921.0 251.4,933.8 252.6,941.3 255.7,963.3 256.9,970.8 259.3,983.2 260.6,988.3 261.2,989.9 261.8,990.7 262.4,990.2 263.0,987.9 263.6,984.1 264.2,979.1 266.7,953.7 267.9,938.1 270.4,898.2 274.0,824.6 275.9,790.7 276.5,781.6 277.7,769.3 278.9,759.0 279.5,755.1 280.1,752.2 280.8,750.7 281.4,751.0 282.0,753.1 282.6,757.0 283.8,768.3 285.0,782.5 285.7,790.6 287.5,831.4 288.1,842.2 290.6,873.7 291.8,885.9 292.4,890.2 293.0,893.2 293.6,894.5 294.2,893.8 294.8,891.0 295.4,886.7 297.9,864.3 300.3,846.7 301.0,842.9 301.6,840.3 302.2,839.4 302.8,841.1 303.4,845.8 304.0,852.8 305.9,879.4 307.1,902.8 308.9,943.6 309.5,953.4 310.1,956.9 310.8,959.6 311.4,961.5 312.0,962.9 312.6,963.8 313.2,964.3 315.0,965.3 315.6,965.8 316.3,966.5 316.9,969.0 317.5,973.9 318.1,980.2 321.8,1021.2 322.4,1026.7 323.6,1033.3 324.8,1038.6 325.4,1040.6 326.1,1042.1 326.7,1042.9 327.3,1043.0 327.9,1042.6 328.5,1041.7 330.3,1038.3 330.9,1037.4 331.6,1036.7 332.2,1036.5 332.8,1036.7 334.0,1037.3 336.5,1039.0 337.1,1039.2 337.7,1039.3 338.3,1038.5 338.9,1036.1 339.5,1032.5 340.1,1028.1 343.2,1003.7 346.3,975.7 347.5,966.4 348.1,963.0 348.7,960.2 349.9,955.8 352.4,948.0 353.6,942.7 354.2,939.0 356.0,925.4 357.9,913.2 359.7,902.1 360.9,895.5 362.2,889.4 363.4,884.1 364.6,879.5 365.8,875.7 367.1,872.7 367.7,871.5 368.3,870.7 369.5,869.7 370.1,869.4 370.7,869.3 371.3,869.5 372.0,870.0 373.2,871.4 373.8,872.4 374.4,873.8 375.6,877.1 376.9,881.2 378.1,886.1 379.3,891.7 380.5,898.1 383.0,912.4 385.4,928.7 392.8,982.2 395.8,1003.2 397.1,1011.0 398.9,1021.6 400.1,1027.9 401.3,1033.5 402.6,1038.4 403.8,1042.6 405.0,1045.8 406.2,1048.4 406.9,1049.3 407.5,1049.8 408.7,1050.1 409.9,1050.2 410.5,1049.9 411.1,1049.1 412.4,1047.0 413.0,1045.7 414.2,1042.3 415.4,1038.2 416.6,1033.2 417.9,1027.5 419.7,1017.7 421.5,1006.6 424.0,990.3 431.3,936.8 433.8,919.8 436.2,904.5 438.1,894.4 439.3,888.5 440.5,883.2 441.1,880.9 442.4,876.9 443.6,873.6 444.2,872.4 445.4,870.4 446.0,869.7 446.6,869.4 447.2,869.5 448.5,869.8 449.1,870.1 449.7,870.7 450.3,871.7 450.9,873.0 452.1,875.9 453.4,879.8 454.6,884.4 455.8,889.8 457.0,895.9 459.5,909.9 461.9,925.9 469.9,983.7 473.0,1004.6 475.4,1019.4 477.9,1031.8 479.1,1036.9 480.3,1041.3 481.5,1044.8 482.8,1047.7 483.4,1048.6 484.0,1049.3 484.6,1049.9 485.2,1050.3 485.8,1050.5 486.4,1050.3 487.0,1049.9 488.3,1048.8 488.9,1047.9 490.1,1045.1 491.3,1041.7 492.5,1037.3 493.8,1032.3 496.2,1020.0 498.7,1005.3 500.5,993.1 507.8,939.7 510.9,918.5 513.4,903.3 514.6,896.5 515.8,890.4 517.0,884.9 518.3,880.2 519.5,876.2 520.7,873.2 521.3,871.9 521.9,870.9 522.5,870.2 523.8,869.6 525.0,869.4 525.6,869.6 526.2,870.3 527.4,872.2 528.0,873.3 528.7,874.8 529.9,878.4 531.1,882.8 532.3,887.9 533.6,893.8 534.8,900.3 536.6,911.2 539.1,927.4 546.4,980.8 548.9,997.9 551.9,1017.0 553.1,1023.8 554.4,1029.9 555.6,1035.3 556.8,1039.9 558.0,1043.8 558.7,1045.4 559.3,1046.7 560.5,1049.0 561.1,1049.8 561.7,1050.1 564.2,1049.9 564.8,1049.5 565.4,1048.6 566.6,1046.1 567.2,1044.7 568.4,1041.0 569.7,1036.6 570.9,1031.3 572.1,1025.4 573.3,1018.8 575.2,1007.9 577.6,991.7 585.0,938.2 587.4,921.2 589.9,905.7 592.3,892.3 593.5,886.6 594.8,881.7 595.4,879.4 596.6,875.7 597.8,872.7 598.4,871.6 599.7,870.1 600.3,869.5 600.9,869.3 601.5,869.4 602.1,869.7 603.3,870.6 603.9,871.3 604.6,872.5 605.8,875.4 607.0,879.1 608.2,883.6 609.5,888.9 610.7,894.8 611.9,901.5 614.4,916.4 617.4,937.4 624.8,990.9 627.2,1007.2 629.7,1021.8 630.3,1024.8 631.5,1030.1 632.7,1034.7 635.2,1043.1 636.4,1046.9 638.2,1052.1 638.8,1053.2 639.4,1053.2 640.1,1052.2 641.3,1048.6 641.9,1046.3 643.1,1040.2 651.7,986.9 653.5,974.2 657.2,947.3 660.9,922.7 664.5,901.2 665.8,895.4 667.6,888.6 668.2,887.2 668.8,888.5 669.4,901.8 671.3,949.9 671.9,958.2 672.5,954.2 673.1,942.6 674.3,913.7 675.6,881.6 676.8,856.8 677.4,845.4 678.0,836.4 678.6,831.4 679.2,832.4 679.8,840.0 681.1,861.2 681.7,867.8 682.9,876.9 684.1,883.9 685.4,889.0 686.6,892.5 688.4,896.2 689.6,899.2 690.3,901.2 690.9,903.8 691.5,907.3 692.7,916.1 699.4,968.0 703.1,993.8 704.9,1005.5 706.2,1011.7 706.8,1014.2 709.2,1023.3 711.1,1029.2 712.3,1032.5 713.5,1034.8 714.1,1035.6 714.7,1036.2 715.3,1036.4 716.0,1036.3 716.6,1035.9 717.2,1035.4 718.4,1033.8 719.6,1031.5 721.5,1027.2 723.3,1022.3 723.9,1020.2 724.5,1017.6 727.0,1005.0 728.8,994.3 730.0,986.5 733.1,965.4 740.4,912.3 742.9,896.3 745.3,882.2 746.6,876.1 747.8,870.7 749.0,866.0 750.2,862.1 751.5,859.0 752.1,857.7 752.7,856.9 753.9,855.7 754.5,855.3 755.1,855.1 755.7,855.3 756.4,855.7 757.6,857.0 758.2,857.9 758.8,859.2 760.0,862.4 761.3,866.3 762.5,871.1 763.7,876.6 764.9,882.7 767.4,896.9 769.8,912.9 777.2,966.1 780.2,987.1 782.7,1002.2 783.9,1008.9 785.1,1014.9 786.4,1020.3 787.6,1024.9 788.8,1028.8 790.0,1031.7 790.6,1033.0 791.2,1034.0 791.9,1034.5 793.1,1035.0 794.3,1035.2 794.9,1034.9 795.5,1034.3 796.1,1033.3 797.4,1031.1 798.0,1029.6 799.8,1023.9 801.0,1019.0 802.3,1013.5 804.7,1000.4 807.2,985.2 809.6,968.3 815.1,928.1 817.6,910.9 820.0,895.0 821.9,884.4 823.1,878.0 824.3,872.4 825.5,867.4 826.8,863.3 828.0,859.9 828.6,858.6 829.8,856.5 830.4,855.7 831.0,855.4 832.3,855.5 833.5,855.8 834.1,856.3 834.7,857.2 835.3,858.4 836.5,861.2 837.8,865.0 839.0,869.4 840.2,874.7 841.4,880.6 842.7,887.2 843.9,894.4 845.7,906.1 848.8,927.4 855.5,976.2 858.0,992.4 860.4,1006.7 861.6,1013.0 862.9,1018.6 864.1,1023.5 865.3,1027.5 866.5,1030.8 867.1,1032.2 867.8,1033.2 869.0,1034.7 869.6,1035.2 870.2,1035.4 870.8,1035.3 871.4,1034.9 872.7,1033.9 873.3,1033.2 873.9,1032.0 875.1,1029.0 876.3,1025.3 878.2,1018.2 880.6,1006.2 883.1,991.7 884.9,979.7 892.9,922.2 895.9,901.4 898.4,886.6 899.6,880.1 900.8,874.2 902.0,869.0 903.3,864.6 904.5,861.0 905.7,858.1 906.3,857.0 906.9,856.3 908.2,855.5 908.8,855.3 909.4,855.2 910.0,855.4 910.6,856.0 911.8,857.7 912.4,858.8 913.1,860.2 914.3,863.6 915.5,867.8 916.7,872.8 918.0,878.6 919.2,885.0 921.0,895.7 923.5,911.6 930.8,964.7 933.9,985.8 935.7,997.4 936.9,1004.5 938.2,1011.0 939.4,1016.8 940.6,1022.0 942.4,1028.2 943.7,1031.3 944.9,1033.7 945.5,1034.6 946.1,1034.9 948.6,1034.9 949.2,1034.5 949.8,1033.6 951.6,1029.6 952.8,1025.8 954.1,1021.2 955.3,1015.8 956.5,1009.6 958.4,999.1 960.2,987.2 962.0,974.4 969.4,918.5 971.8,900.7 974.3,884.6 976.1,874.1 977.3,867.9 978.6,862.5 979.8,857.7 981.0,853.9 982.2,850.7 982.8,849.6 984.1,847.8 984.7,847.2 985.3,847.0 985.9,847.0 986.5,847.3 987.7,848.0 988.3,848.6 989.0,849.7 990.2,852.5 991.4,856.0 992.6,860.4 993.9,865.6 995.1,871.4 996.3,878.0 998.8,892.7 1001.8,913.6 1009.8,971.3 1012.2,987.3 1014.7,1001.3 1015.9,1007.4 1017.1,1012.7 1018.3,1017.4 1019.6,1021.2 1020.8,1024.3 1021.4,1025.5 1022.0,1026.3 1023.2,1027.4 1023.8,1027.8 1024.5,1027.9 1025.1,1027.7 1025.7,1027.2 1026.9,1025.9 1027.5,1024.9 1028.1,1023.6 1029.4,1020.3 1030.6,1016.3 1031.8,1011.4 1033.0,1005.9 1034.3,999.6 1036.7,985.3 1039.1,969.1 1046.5,915.7 1049.6,894.6 1052.0,879.6 1053.2,872.9 1054.5,866.9 1056.3,859.2 1057.5,855.0 1058.7,851.7 1060.0,849.1 1060.6,848.1 1061.2,847.6 1063.0,847.1 1063.6,847.1 1064.2,847.4 1064.9,848.1 1066.1,850.2 1066.7,851.4 1067.3,853.0 1069.1,858.9 1070.4,863.8 1071.6,869.4 1074.0,882.6 1076.5,898.0 1078.9,915.0 1084.4,955.4 1086.9,972.7 1089.3,988.5 1091.2,999.1 1092.4,1005.4 1093.6,1011.0 1094.9,1016.0 1096.1,1020.0 1097.3,1023.4 1097.9,1024.6 1099.1,1026.7 1099.7,1027.4 1100.4,1027.7 1101.6,1027.5 1102.8,1027.1 1103.4,1026.6 1104.0,1025.6 1104.6,1024.4 1105.9,1021.5 1107.1,1017.7 1108.3,1013.1 1109.5,1007.8 1110.8,1001.8 1112.0,995.1 1114.4,980.1 1117.5,959.0 1124.8,905.6 1127.3,889.4 1129.7,875.1 1131.0,868.8 1132.2,863.3 1133.4,858.5 1134.6,854.4 1135.9,851.2 1136.5,849.9 1137.1,848.9 1138.3,847.5 1138.9,847.1 1139.5,846.9 1140.1,847.0 1140.8,847.4 1142.0,848.5 1142.6,849.3 1143.2,850.5 1144.4,853.6 1145.7,857.4 1146.9,862.1 1148.1,867.5 1149.3,873.6 1151.8,887.6 1154.2,903.6 1162.2,961.3 1165.2,982.2 1167.7,996.9 1168.9,1003.4 1170.1,1009.3 1171.4,1014.4 1172.6,1018.8 1173.8,1022.3 1175.0,1025.1 1175.6,1026.2 1176.3,1026.8 1177.5,1027.5 1178.1,1027.7 1178.7,1027.8 1179.3,1027.6 1179.9,1026.9 1181.2,1025.2 1181.8,1024.0 1183.0,1020.9 1184.2,1017.0 1184.8,1014.7 1186.1,1009.6 1187.3,1003.8 1189.7,990.3 1192.2,974.6 1194.6,957.5 1201.4,908.4 1203.8,892.0 1205.6,880.8 1207.5,870.8 1208.7,865.1 1209.9,859.9 1211.1,855.7 1212.4,852.1 1214.2,848.5 1214.8,847.6 1215.4,847.3 1216.7,847.3 1217.9,847.4 1218.5,847.7 1219.1,848.6 1220.3,851.0 1221.6,854.2 1223.4,860.4 1224.6,865.6 1225.8,871.4 1227.1,878.0 1228.3,885.1 1230.1,896.7 1233.2,918.0 1240.5,971.3 1243.0,987.3 1244.8,998.0 1246.0,1004.4 1247.3,1010.2 1248.5,1015.2 1249.7,1019.4 1250.9,1022.9 1251.5,1024.3 1252.2,1025.4 1253.4,1027.0 1254.0,1027.6 1254.6,1027.8 1255.2,1027.7 1255.8,1027.5 1257.1,1026.7 1257.7,1026.0 1258.3,1024.9 1259.5,1022.0 1260.7,1018.4 1262.0,1013.9 1263.2,1008.7 1264.4,1002.8 1265.6,996.2 1268.1,981.4 1271.1,960.4 1279.1,902.8 1280.9,890.6 1283.4,876.2 1285.8,864.1 1287.7,857.0 1288.9,853.3 1290.1,850.3 1290.7,849.1 1291.3,848.3 1292.6,847.3 1293.2,847.0 1293.8,846.9 1294.4,847.1 1295.0,847.6 1296.2,849.1 1296.8,850.1 1297.5,851.5 1298.7,854.8 1299.9,858.9 1301.1,863.8 1302.4,869.4 1303.6,875.8 1306.0,890.2 1308.5,906.4 1315.2,955.5 1318.3,976.8 1320.1,988.6 1321.3,995.7 1322.6,1002.4 1323.8,1008.3 1325.0,1013.6 1326.8,1020.1 1328.1,1023.3 1329.3,1025.8 1329.9,1026.8 1330.5,1027.2 1331.7,1027.5 1333.0,1027.6 1333.6,1027.3 1334.2,1026.5 1335.4,1024.4 1336.6,1021.6 1337.9,1017.7 1338.5,1015.0 1339.1,1011.8 1339.7,1008.0 1340.9,999.2 1347.6,944.0 1350.1,929.1 1350.7,926.3 1351.3,924.7 1351.9,925.9 1352.5,939.3 1353.2,956.7 1354.4,982.1 1355.0,992.4 1355.6,996.7 1356.2,991.3 1356.8,977.8 1358.1,941.3 1359.3,890.3 1359.9,871.6 1360.5,856.3 1361.1,848.2 1362.3,836.9 1363.0,832.9 1363.6,830.4 1364.2,829.5 1364.8,830.8 1365.4,834.4 1367.2,850.1 1367.8,854.4 1369.1,860.0 1369.7,862.4 1370.3,864.2 1370.9,864.8 1371.5,864.8 1372.7,864.3 1375.2,862.9 1375.8,862.7 1376.4,862.6 1377.0,863.6 1377.6,866.1 1378.9,874.2 1381.9,897.5 1383.8,912.5 1385.0,921.3 1386.2,928.5 1389.3,944.2 1390.5,951.4 1394.8,981.8 1396.6,993.7 1398.5,1004.5 1399.7,1011.1 1400.9,1016.8 1402.1,1022.0 1403.3,1026.3 1404.6,1029.9 1405.8,1032.5 1406.4,1033.7 1407.0,1034.6 1407.6,1034.9 1410.1,1035.0 1410.7,1034.6 1411.3,1033.8 1412.5,1031.4 1413.8,1028.4 1415.0,1024.5 1416.2,1019.8 1417.4,1014.4 1418.7,1008.3 1419.9,1001.5 1422.3,986.4 1425.4,965.3 1432.7,912.2 1435.2,896.2 1437.0,885.4 1438.2,879.0 1439.5,873.2 1440.7,868.2 1441.9,863.9 1443.1,860.4 1443.7,858.9 1444.4,857.8 1445.6,856.1 1446.2,855.5 1446.8,855.2 1447.4,855.3 1448.0,855.5 1449.3,856.2 1449.9,856.9 1450.5,858.0 1451.7,860.8 1452.9,864.3 1454.2,868.7 1455.4,873.8 1456.6,879.7 1457.8,886.1 1460.3,900.8 1463.3,921.6 1471.3,979.1 1473.7,995.0 1476.2,1008.9 1477.4,1015.0 1478.6,1020.3 1479.9,1025.0 1481.1,1028.8 1482.3,1031.8 1482.9,1033.0 1483.5,1033.8 1484.8,1034.9 1485.4,1035.3 1486.0,1035.4 1486.6,1035.2 1487.2,1034.7 1488.4,1033.3 1489.0,1032.4 1489.7,1031.0 1490.9,1027.8 1492.1,1023.8 1493.3,1018.9 1494.6,1013.4 1495.8,1007.2 1498.2,992.9 1500.7,976.8 1508.0,923.6 1511.1,902.6 1513.5,887.7 1514.8,881.0 1516.0,875.1 1517.8,867.4 1519.0,863.2 1520.3,859.9 1521.5,857.4 1522.1,856.4 1522.7,855.9 1524.5,855.4 1525.2,855.4 1525.8,855.7 1526.4,856.4 1527.6,858.5 1528.2,859.7 1528.8,861.3 1530.7,867.1 1531.9,872.0 1533.1,877.6 1535.6,890.8 1538.0,906.2 1540.5,923.1 1546.0,963.3 1548.4,980.5 1550.9,996.3 1552.7,1006.8 1553.9,1013.1 1555.1,1018.6 1556.4,1023.5 1557.6,1027.6 1558.8,1030.9 1559.4,1032.1 1560.7,1034.2 1561.3,1034.9 1561.9,1035.2 1563.1,1035.0 1564.3,1034.6 1564.9,1034.1 1565.6,1033.1 1566.2,1031.9 1567.4,1029.0 1568.6,1025.2 1569.8,1020.7 1571.1,1015.3 1572.3,1009.3 1573.5,1002.6 1576.0,987.7 1579.0,966.7 1586.4,913.5 1588.8,897.4 1591.3,883.2 1592.5,877.0 1593.7,871.4 1594.9,866.6 1596.2,862.6 1597.4,859.4 1598.0,858.1 1598.6,857.1 1599.8,855.8 1600.4,855.3 1601.1,855.1 1601.7,855.3 1602.3,855.6 1603.5,856.7 1604.1,857.6 1604.7,858.8 1606.0,861.9 1607.2,865.7 1608.4,870.3 1609.6,875.7 1612.1,888.5 1614.5,903.5 1617.0,920.2 1624.9,977.7 1627.4,993.8 1629.8,1007.9 1631.1,1014.0 1632.3,1019.6 1633.5,1024.2 1634.7,1028.2 1635.9,1031.3 1637.2,1033.7 1637.8,1034.3 1639.0,1035.0 1639.6,1035.2 1640.2,1035.3 1640.8,1035.1 1641.5,1034.4 1642.7,1032.6 1643.3,1031.5 1643.9,1030.0 1645.7,1024.5 1647.0,1019.8 1648.2,1014.4 1650.6,1001.5 1653.1,986.4 1655.5,969.6 1663.5,912.1 1665.9,896.1 1667.8,885.4 1669.0,878.9 1670.2,873.2 1671.4,868.1 1672.7,863.9 1673.9,860.4 1674.5,859.0 1675.7,856.7 1676.3,855.9 1677.0,855.5 1679.4,855.6 1680.0,856.0 1680.6,856.9 1681.2,858.1 1682.5,860.7 1683.7,864.4 1684.9,868.7 1686.1,873.9 1687.4,879.7 1688.6,886.2 1689.8,893.2 1691.6,904.9 1694.7,926.0 1702.1,979.1 1704.5,995.0 1706.3,1005.7 1707.6,1012.1 1708.8,1017.8 1710.0,1022.8 1711.2,1027.0 1712.5,1030.4 1713.1,1031.8 1713.7,1032.9 1714.9,1034.5 1715.5,1035.1 1716.1,1035.3 1716.7,1035.2 1717.4,1035.0 1718.6,1034.2 1719.2,1033.5 1719.8,1032.3 1721.0,1029.5 1722.3,1025.9 1723.5,1021.4 1724.7,1016.2 1725.9,1010.3 1727.2,1003.8 1729.6,989.0 1732.7,968.1 1740.0,914.9 1742.5,898.6 1744.9,884.2 1747.3,872.3 1748.6,867.4 1749.8,863.2 1751.0,859.9 1752.2,857.3 1752.9,856.5 1753.5,856.0 1754.7,855.3 1755.3,855.2 1755.9,855.4 1756.5,855.9 1757.8,857.4 1758.4,858.4 1759.0,859.7 1760.2,863.1 1761.4,867.2 1762.7,872.1 1763.9,877.7 1766.3,890.8 1768.8,906.2 1771.2,923.1 1778.6,976.3 1781.0,992.5 1782.9,1003.4 1784.1,1010.1 1785.3,1016.0 1786.5,1021.2 1787.7,1025.6 1789.0,1029.4 1789.6,1030.8 1790.8,1033.4 1791.4,1034.3 1792.0,1034.8 1793.3,1035.0 1794.5,1035.1 1795.1,1034.8 1795.7,1034.0 1796.9,1031.9 1797.5,1030.6 1798.2,1029.0 1799.4,1025.2 1800.6,1020.6 1801.8,1015.3 1803.1,1009.3 1804.3,1002.6 1807.3,983.6 1809.8,966.7 1817.1,913.5 1819.6,897.4 1821.4,886.5 1822.6,880.0 1823.9,874.1 1825.1,868.9 1826.3,864.5 1827.5,860.9 1828.1,859.4 1828.8,858.2 1830.0,856.2 1830.6,855.6 1831.2,855.3 1832.4,855.5 1833.7,856.0 1834.3,856.6 1834.9,857.6 1835.5,858.9 1836.7,861.8 1837.9,865.7 1839.2,870.3 1840.4,875.7 1841.6,881.8 1842.8,888.5 1845.3,903.6 1848.3,924.6 1855.7,977.7 1857.5,990.0 1860.0,1004.6 1862.4,1016.9 1863.6,1022.0 1864.9,1026.4 1866.1,1029.8 1867.3,1032.6 1867.9,1033.6 1868.5,1034.2 1869.2,1034.8 1869.8,1035.2 1870.4,1035.4 1871.0,1035.2 1871.6,1034.8 1872.8,1033.6 1873.4,1032.7 1874.1,1031.5 1875.3,1028.4 1876.5,1024.5 1877.7,1019.8 1879.0,1014.3 1881.4,1001.4 1883.8,986.3 1886.3,969.6 1894.3,912.1 1896.7,896.1 1898.5,885.4 1899.8,878.9 1901.0,873.2 1902.2,868.1 1903.4,863.8 1904.7,860.4 1905.9,857.7 1906.5,856.7 1907.1,856.1 1908.3,855.5 1909.6,855.3 1910.2,855.5 1910.8,856.2 1911.4,857.1 1912.6,859.3 1913.8,862.5 1915.1,866.4 1916.3,871.2 1917.5,876.7 1920.0,889.7 1922.4,904.9 1924.9,921.7 1932.8,979.2 1935.3,995.1 1937.1,1005.7 1938.3,1012.1 1939.5,1017.8 1940.8,1022.8 1942.0,1027.0 1943.2,1030.4 1943.8,1031.7 1945.1,1034.0 1945.7,1034.8 1946.3,1035.1 1947.5,1035.0 1948.7,1034.8 1949.3,1034.4 1950.0,1033.4 1951.2,1031.0 1952.4,1027.8 1953.6,1023.7 1954.9,1018.9 1956.1,1013.3 1958.5,1000.2 1961.0,985.0 1964.0,963.7 1970.8,914.9 1973.2,898.6 1975.7,884.2 1977.5,875.0 1978.7,869.7 1979.9,865.1 1981.2,861.5 1982.4,858.5 1983.6,856.6 1984.2,855.9 1984.8,855.4 1985.5,855.2 1986.1,855.3 1987.3,856.0 1987.9,856.5 1988.5,857.2 1989.1,858.4 1990.4,861.3 1991.6,865.0 1992.8,869.5 1994.0,874.8 1995.2,880.8 1996.5,887.4 1998.9,902.2 2002.0,923.2 2009.3,976.4 2011.8,992.6 2013.6,1003.5 2014.8,1010.1 2016.1,1016.0 2017.3,1021.2 2018.5,1025.7 2019.7,1029.3 2021.0,1032.2 2021.6,1033.4 2022.2,1034.1 2022.8,1034.6 2024.0,1035.2 2024.6,1035.3 2025.2,1035.1 2025.9,1034.6 2026.5,1033.8 2027.7,1031.9 2028.9,1028.9 2030.1,1025.2 2031.4,1020.6 2032.6,1015.3 2035.0,1002.6 2037.5,987.6 2040.5,966.6 2047.9,913.5 2050.3,897.3 2052.2,886.5 2054.0,876.9 2055.2,871.4 2056.5,866.6 2058.3,860.9 2059.5,858.2 2060.1,857.0 2060.7,856.1 2061.4,855.7 2063.8,855.5 2064.4,855.8 2065.0,856.6 2065.6,857.7 2066.9,860.2 2067.5,861.9 2068.7,865.7 2069.9,870.4 2071.2,875.7 2072.4,881.8 2073.6,888.5 2076.7,907.6 2079.1,924.6 2085.8,973.5 2088.3,990.0 2090.1,1001.2 2092.6,1014.1 2094.4,1022.0 2095.6,1026.4 2096.9,1029.9 2097.5,1031.4 2098.7,1033.5 2099.3,1034.4 2099.9,1035.0 2100.5,1035.3 2101.1,1035.2 2102.4,1034.7 2103.0,1034.4 2103.6,1033.8 2104.2,1032.7 2104.8,1031.4 2106.0,1028.4 2107.3,1024.4 2108.5,1019.8 2109.7,1014.3 2110.9,1008.2 2113.4,994.1 2116.4,973.8 2120.5,944.5"/>
<path class="b" stroke-width="7.2" stroke-dasharray="26.1 22.95" d="M196.9,1052.4 197.5,1052.4 198.1,1050.3 198.7,1046.6 200.0,1036.9 202.4,1014.1 207.3,964.8 210.4,935.5 213.4,908.7 215.9,890.0 217.1,881.7 218.9,870.6 220.8,860.9 222.0,855.2 223.8,848.0 225.1,844.0 225.8,841.9 226.9,839.5 228.1,837.4 228.7,836.7 229.3,836.2 229.9,835.9 230.6,835.8 231.2,835.8 231.8,836.0 232.6,836.5 233.6,837.6 234.2,838.4 235.5,840.4 236.7,842.8 238.1,846.1 239.7,851.3 241.6,858.2 243.4,866.1 252.0,906.6 254.4,919.5 260.6,955.2 262.4,964.6 263.0,967.1 263.6,969.2 264.2,970.7 264.8,971.5 265.4,971.7 266.1,971.2 266.7,970.1 267.3,968.5 267.9,966.3 268.5,963.5 269.7,956.0 271.0,946.0 272.2,933.6 273.4,918.7 274.6,902.0 278.9,839.3 280.1,823.7 281.4,810.0 282.6,799.0 283.2,794.8 283.8,791.5 284.6,788.8 285.0,787.8 285.6,787.2 286.3,787.5 286.9,789.1 287.5,791.9 288.1,795.8 289.9,810.7 293.0,839.2 294.2,849.6 295.4,857.7 296.2,861.1 296.7,862.7 297.3,864.0 297.9,864.6 298.5,864.5 299.1,864.1 299.7,863.3 300.3,862.1 300.9,860.5 302.8,855.2 303.4,853.8 304.0,853.0 304.6,852.9 305.2,853.7 305.8,855.4 306.5,857.8 307.1,861.0 308.3,870.1 308.9,876.0 311.3,902.8 312.6,914.1 313.8,923.5 315.6,934.8 318.1,946.6 319.3,953.6 321.1,966.5 323.6,986.2 325.0,996.5 326.6,1007.6 328.0,1015.0 329.1,1019.6 329.7,1021.7 330.9,1025.0 331.7,1026.5 333.4,1029.0 336.0,1032.1 338.3,1034.4 338.9,1034.8 339.5,1035.0 340.1,1034.7 340.7,1034.1 341.3,1033.0 342.0,1031.5 342.7,1029.2 343.8,1025.2 345.0,1019.6 346.2,1012.8 349.3,993.9 350.5,986.8 351.9,979.6 355.6,961.8 363.4,917.2 365.2,907.6 367.2,898.3 368.3,893.9 369.5,889.4 370.7,885.7 371.9,882.6 373.2,880.2 374.4,878.7 375.2,878.1 375.6,877.9 376.2,877.8 376.8,877.9 377.4,878.2 378.2,879.0 379.3,880.4 380.5,882.9 381.7,886.1 382.5,888.4 383.6,892.2 384.8,897.2 387.2,908.9 389.7,922.7 392.3,938.9 400.1,990.1 402.5,1004.6 404.4,1014.4 405.6,1020.2 406.8,1025.4 408.0,1030.0 409.3,1033.8 410.5,1036.9 411.7,1039.3 412.3,1040.2 412.9,1040.9 413.6,1041.4 414.2,1041.6 414.8,1041.7 415.4,1041.6 416.2,1041.1 417.2,1040.0 418.5,1037.9 419.7,1035.0 420.4,1032.8 421.5,1029.3 422.7,1024.7 424.0,1019.4 425.2,1013.4 427.8,999.2 430.7,981.2 438.7,929.0 441.1,914.6 443.5,901.9 444.8,896.4 446.0,891.6 447.2,887.4 448.4,884.0 449.7,881.4 450.9,879.4 451.5,878.8 452.1,878.3 452.7,878.1 453.3,878.0 454.0,878.2 454.6,878.6 455.3,879.3 456.4,880.9 457.6,883.4 458.8,886.7 459.6,889.2 460.7,893.0 461.9,898.1 464.4,910.0 466.8,923.9 469.4,940.2 476.7,988.5 479.0,1002.3 481.5,1015.3 482.7,1021.1 483.9,1026.2 485.2,1030.6 486.4,1034.4 487.6,1037.4 488.4,1038.8 489.4,1040.4 490.1,1041.1 490.7,1041.5 491.3,1041.7 491.9,1041.7 492.5,1041.5 493.1,1041.1 493.7,1040.5 494.3,1039.7 495.1,1038.4 496.2,1036.1 497.4,1032.7 498.6,1028.6 499.9,1023.9 501.1,1018.4 502.3,1012.4 504.9,998.0 507.8,979.9 515.3,930.7 517.6,916.9 520.1,903.9 521.3,898.2 522.5,893.2 523.7,888.8 524.9,885.1 526.2,882.2 527.4,880.0 528.0,879.2 528.6,878.6 529.2,878.2 529.8,878.0 530.5,878.1 531.1,878.3 531.7,878.7 532.3,879.4 533.5,881.2 534.3,882.8 535.4,885.5 536.6,889.3 537.8,893.8 539.0,899.0 541.5,911.0 543.9,925.0 546.4,940.5 553.7,988.7 556.2,1003.4 558.0,1013.2 559.2,1019.2 560.4,1024.5 561.7,1029.2 562.4,1031.8 563.5,1034.9 564.9,1038.0 566.0,1039.9 566.6,1040.6 567.2,1041.2 567.8,1041.6 568.4,1041.7 569.0,1041.6 569.6,1041.4 570.2,1040.9 570.8,1040.3 571.6,1039.1 572.7,1037.0 573.9,1033.9 575.1,1030.1 576.5,1024.9 577.6,1020.3 579.0,1013.8 581.9,997.8 584.9,978.6 592.4,929.4 594.9,915.0 597.2,903.0 598.4,897.4 599.6,892.4 600.8,888.1 602.1,884.6 603.3,881.8 604.5,879.7 605.1,879.0 605.7,878.5 606.3,878.1 607.0,878.0 607.6,878.1 608.2,878.4 608.8,878.9 609.4,879.6 610.6,881.6 611.4,883.3 612.5,886.1 613.7,890.0 614.9,894.6 616.1,899.8 618.6,912.1 621.0,926.2 623.5,941.7 630.2,986.2 631.6,994.6 633.3,1004.2 635.9,1017.2 638.8,1029.7 640.0,1034.2 640.6,1036.0 641.2,1037.4 642.0,1038.8 642.5,1039.4 643.1,1039.8 643.8,1039.8 644.3,1039.6 644.9,1038.9 645.5,1037.9 646.1,1036.6 647.4,1033.3 648.7,1028.7 650.0,1024.0 651.6,1016.6 653.5,1007.4 655.3,997.2 657.8,982.3 665.7,931.8 668.2,918.1 669.4,912.3 670.0,911.2 670.1,911.2 670.6,911.7 670.8,912.1 671.4,914.5 673.1,924.6 673.7,926.5 673.8,926.7 674.3,926.7 674.9,925.6 675.0,925.0 675.7,922.0 676.7,914.1 679.3,887.9 679.8,883.7 680.4,879.3 681.0,876.3 681.6,874.7 682.2,874.0 682.8,873.8 683.5,874.1 684.1,874.7 685.3,876.6 690.3,887.4 691.4,889.9 692.2,892.1 693.3,895.8 694.0,898.9 696.3,910.2 698.3,921.7 700.8,937.2 706.1,972.7 708.1,984.8 709.8,993.9 711.2,1000.8 712.8,1008.4 714.1,1013.3 715.3,1017.6 716.1,1019.9 717.1,1022.6 718.3,1025.0 719.6,1026.6 720.3,1027.1 720.8,1027.4 721.4,1027.5 722.0,1027.5 722.6,1027.3 723.9,1026.6 724.5,1026.0 725.1,1025.1 726.3,1022.9 727.5,1019.9 728.8,1016.1 730.0,1011.7 731.2,1006.6 732.4,1000.8 734.4,990.4 736.9,976.0 744.7,925.1 747.3,908.9 749.7,895.2 752.2,883.4 753.2,879.0 754.5,874.6 755.7,871.0 756.4,869.0 757.5,866.8 758.7,865.1 759.4,864.5 760.0,864.1 760.7,863.9 761.2,863.9 761.8,864.1 762.4,864.5 763.0,865.2 764.2,867.0 765.0,868.6 766.1,871.3 767.3,875.0 768.5,879.5 769.8,884.6 772.2,896.6 774.7,910.5 777.1,925.8 784.4,973.8 786.9,988.4 788.7,998.2 790.0,1004.2 791.2,1009.5 792.4,1014.2 793.2,1016.7 794.4,1020.2 795.6,1023.0 796.7,1024.8 797.3,1025.6 797.9,1026.2 798.5,1026.5 799.1,1026.7 799.7,1026.6 800.4,1026.4 801.1,1025.8 802.3,1024.1 803.6,1021.7 804.8,1018.6 806.0,1014.7 807.2,1010.1 808.5,1004.8 809.7,999.0 812.6,983.1 815.2,967.0 823.2,915.1 825.6,900.7 827.9,888.8 829.1,883.2 830.5,877.7 831.6,874.0 832.8,870.4 834.0,867.7 835.2,865.6 835.9,864.8 836.5,864.3 837.1,864.0 837.7,863.9 838.3,863.9 838.9,864.2 839.5,864.7 840.1,865.4 841.4,867.4 842.6,870.1 843.8,873.7 845.0,877.9 846.3,882.8 847.6,889.0 849.9,901.0 852.4,915.4 860.3,967.4 862.9,983.4 865.8,999.2 867.2,1005.7 868.4,1010.9 870.1,1016.9 871.4,1020.4 872.6,1023.1 873.8,1025.1 874.6,1025.9 875.2,1026.4 875.8,1026.6 876.4,1026.7 877.0,1026.5 877.6,1026.1 878.2,1025.5 878.9,1024.8 879.9,1022.9 880.7,1021.3 881.9,1018.0 883.0,1014.5 885.0,1006.7 887.3,995.6 889.1,985.5 891.1,973.5 898.3,926.5 900.7,911.1 903.3,896.3 905.6,885.0 906.9,879.9 908.1,875.4 909.3,871.6 910.5,868.5 911.3,866.9 912.5,865.1 913.1,864.5 913.7,864.1 914.3,863.9 914.8,863.9 915.4,864.0 916.0,864.4 916.6,864.9 917.3,865.7 918.5,867.8 919.7,870.7 920.9,874.3 922.2,878.6 923.4,883.6 924.6,889.2 926.6,899.5 929.0,913.8 931.5,929.4 937.0,965.7 939.9,983.6 942.5,997.9 944.8,1008.6 946.8,1016.0 948.0,1019.6 949.2,1022.5 950.5,1024.7 951.5,1025.9 952.3,1026.3 952.9,1026.5 953.5,1026.4 954.1,1026.1 954.7,1025.6 955.4,1024.8 956.0,1023.9 957.2,1021.4 958.3,1018.6 959.5,1014.6 960.7,1009.9 961.9,1004.5 963.2,998.5 965.1,987.4 967.6,972.2 974.9,921.9 977.8,902.9 980.4,887.8 982.7,876.5 984.0,871.3 985.2,866.8 986.0,864.4 987.2,861.1 988.4,858.6 989.5,857.0 990.2,856.3 990.9,855.9 991.5,855.7 992.1,855.8 992.7,856.0 993.8,857.0 994.5,858.0 995.7,860.4 997.0,863.5 998.0,866.8 1000.0,874.4 1002.5,886.0 1004.9,899.6 1007.8,917.7 1015.3,966.9 1017.8,981.5 1020.1,993.5 1021.5,999.8 1022.7,1004.8 1023.9,1009.1 1025.1,1012.6 1026.3,1015.4 1027.6,1017.5 1028.2,1018.2 1028.8,1018.7 1029.4,1019.0 1029.9,1019.1 1030.6,1019.0 1031.2,1018.7 1031.9,1018.2 1033.1,1016.6 1034.2,1014.6 1034.9,1012.7 1036.1,1009.2 1037.4,1004.9 1038.4,1000.7 1040.9,989.1 1043.5,974.6 1046.4,956.4 1053.9,907.3 1056.3,892.8 1058.8,880.0 1060.0,874.5 1061.2,869.6 1062.5,865.4 1063.7,861.9 1064.9,859.2 1066.1,857.2 1066.7,856.5 1067.4,856.0 1068.0,855.7 1068.6,855.6 1069.2,855.8 1069.8,856.1 1070.9,857.2 1071.6,858.3 1072.9,860.8 1074.1,864.0 1075.2,867.4 1077.1,875.2 1079.6,887.0 1082.0,900.8 1084.5,916.0 1092.3,967.2 1094.7,981.7 1096.7,992.2 1098.0,998.0 1099.2,1003.2 1100.4,1007.7 1101.6,1011.5 1102.9,1014.5 1104.1,1016.9 1104.7,1017.7 1105.3,1018.4 1105.9,1018.8 1106.5,1019.1 1107.1,1019.1 1107.7,1019.0 1108.4,1018.6 1108.8,1018.2 1109.6,1017.3 1110.8,1015.1 1112.0,1012.2 1113.1,1009.1 1115.1,1001.8 1116.3,996.4 1117.5,990.5 1120.0,977.0 1123.0,958.1 1128.6,921.7 1131.0,906.0 1133.5,891.7 1135.7,879.8 1137.1,873.7 1138.4,868.9 1139.6,864.8 1140.8,861.4 1142.0,858.8 1143.2,856.9 1143.9,856.3 1144.5,855.9 1145.1,855.7 1145.5,855.6 1146.3,855.8 1146.9,856.2 1147.5,856.8 1148.8,858.6 1149.8,860.9 1150.6,862.8 1151.8,866.5 1153.0,871.0 1154.1,875.4 1156.6,887.2 1159.0,901.0 1161.6,917.3 1169.4,968.4 1171.9,982.8 1173.8,993.2 1175.1,998.9 1176.3,1004.0 1177.5,1008.4 1178.7,1012.0 1180.0,1015.0 1181.2,1017.2 1181.8,1018.0 1182.4,1018.6 1183.0,1018.9 1183.6,1019.1 1184.3,1019.1 1184.9,1018.9 1185.5,1018.5 1185.9,1018.0 1186.7,1017.0 1187.9,1014.7 1189.1,1011.7 1190.2,1008.4 1192.2,1000.9 1193.4,995.5 1194.7,989.5 1197.1,975.9 1200.0,957.8 1205.7,920.4 1208.0,905.8 1210.4,891.4 1212.4,881.1 1213.6,875.4 1214.9,870.4 1216.1,866.0 1217.3,862.5 1218.5,859.6 1219.7,857.5 1220.4,856.7 1221.0,856.1 1221.6,855.8 1222.2,855.6 1222.8,855.7 1223.4,855.9 1224.0,856.4 1224.5,856.9 1225.3,857.9 1226.5,860.3 1227.7,863.4 1228.8,866.7 1230.8,874.2 1233.2,885.8 1235.7,899.5 1238.7,918.6 1246.1,966.8 1248.5,981.3 1251.0,994.2 1252.2,999.8 1253.4,1004.7 1254.6,1009.0 1255.9,1012.6 1257.1,1015.4 1258.3,1017.4 1258.9,1018.2 1259.5,1018.7 1260.1,1019.0 1260.8,1019.1 1261.4,1019.1 1262.0,1018.8 1262.6,1018.3 1263.2,1017.6 1264.4,1015.6 1265.7,1012.8 1266.9,1009.3 1268.1,1005.0 1269.3,1000.1 1270.5,994.6 1273.0,981.8 1275.4,967.3 1283.2,916.1 1285.8,900.0 1288.3,886.3 1290.7,874.6 1292.0,869.7 1293.0,866.0 1293.8,863.6 1295.0,860.5 1296.3,858.1 1297.3,856.7 1298.1,856.0 1298.7,855.7 1299.3,855.6 1299.9,855.7 1300.5,856.1 1301.6,857.1 1302.4,858.3 1303.6,860.7 1304.7,863.5 1305.4,865.8 1306.7,870.1 1307.9,875.1 1310.3,886.8 1312.8,900.6 1315.2,915.9 1323.2,968.0 1325.6,982.4 1327.5,992.1 1328.7,997.9 1329.9,1003.1 1331.1,1007.7 1332.4,1011.4 1333.6,1014.5 1334.8,1016.8 1335.4,1017.7 1336.0,1018.4 1336.6,1018.8 1337.3,1019.1 1337.9,1019.2 1338.3,1019.1 1339.1,1018.6 1339.7,1017.9 1340.3,1016.9 1340.9,1015.6 1341.5,1013.9 1342.2,1012.0 1343.4,1007.1 1344.6,1001.3 1346.3,992.1 1351.2,961.1 1352.6,953.6 1353.2,952.2 1353.8,952.7 1354.4,954.4 1355.0,957.2 1356.2,964.3 1356.8,966.9 1357.5,968.0 1357.9,967.4 1358.1,967.1 1358.7,964.5 1359.3,959.5 1359.9,952.6 1362.4,918.4 1364.2,895.3 1364.8,888.7 1365.9,879.3 1366.6,874.2 1367.2,871.3 1367.9,869.2 1368.5,867.7 1369.1,866.7 1369.7,866.0 1370.3,865.7 1370.8,865.6 1373.4,865.2 1377.0,864.2 1377.7,864.1 1378.3,864.3 1378.9,864.9 1379.5,865.8 1380.6,868.4 1381.9,873.0 1383.8,881.1 1392.3,928.2 1399.1,970.3 1401.5,984.9 1404.0,998.1 1405.8,1006.7 1407.0,1011.7 1408.3,1016.1 1408.9,1018.0 1410.1,1021.2 1411.3,1023.8 1411.9,1024.8 1412.5,1025.6 1413.2,1026.2 1413.8,1026.5 1414.4,1026.7 1415.0,1026.7 1415.4,1026.5 1416.2,1026.1 1416.8,1025.4 1417.4,1024.6 1418.7,1022.4 1419.3,1020.9 1420.5,1017.6 1421.7,1013.5 1422.9,1008.7 1424.2,1003.2 1425.4,997.2 1427.8,983.7 1430.9,964.8 1438.2,916.8 1440.7,902.2 1443.1,889.3 1444.4,883.7 1445.6,878.7 1446.8,874.3 1448.0,870.7 1449.3,867.9 1450.5,865.7 1451.1,864.9 1451.7,864.4 1452.3,864.0 1452.9,863.9 1453.5,863.9 1454.2,864.2 1454.8,864.6 1455.2,865.1 1456.0,866.1 1457.2,868.4 1457.8,869.9 1459.1,873.3 1460.3,877.5 1461.5,882.3 1462.7,887.8 1463.9,893.8 1466.4,907.4 1469.5,926.4 1476.8,974.4 1479.2,988.9 1481.7,1001.7 1482.9,1007.3 1484.1,1012.2 1485.4,1016.5 1486.6,1020.1 1487.8,1022.9 1489.0,1024.9 1489.7,1025.7 1490.3,1026.2 1490.9,1026.5 1491.5,1026.7 1492.3,1026.5 1492.7,1026.3 1493.3,1025.8 1493.9,1025.1 1494.5,1024.3 1495.8,1021.9 1496.5,1020.0 1497.6,1016.9 1498.8,1012.7 1500.1,1007.8 1502.5,996.2 1505.0,982.6 1508.0,963.5 1515.4,915.5 1517.8,901.1 1520.3,888.4 1521.5,882.8 1522.7,877.9 1523.9,873.7 1525.2,870.2 1526.4,867.4 1527.6,865.4 1528.2,864.7 1528.8,864.2 1529.4,863.9 1530.0,863.9 1530.7,864.0 1531.3,864.3 1532.0,865.0 1533.1,866.4 1534.3,868.9 1535.1,870.8 1536.2,873.9 1537.4,878.2 1538.6,883.1 1541.1,894.8 1543.5,908.5 1546.0,923.7 1553.9,975.6 1556.4,990.0 1558.2,999.7 1559.4,1005.5 1560.6,1010.6 1561.9,1015.2 1563.1,1019.0 1564.3,1022.0 1565.5,1024.3 1566.2,1025.2 1566.8,1025.9 1567.4,1026.3 1568.0,1026.6 1568.6,1026.7 1569.2,1026.5 1570.0,1026.0 1571.1,1024.9 1572.3,1022.8 1573.5,1019.9 1574.7,1016.3 1575.9,1012.0 1577.2,1007.0 1579.6,995.2 1582.1,981.4 1584.5,966.2 1592.5,914.3 1594.9,900.0 1596.8,890.4 1598.0,884.6 1599.2,879.5 1600.4,875.1 1601.7,871.3 1602.9,868.3 1604.1,866.0 1604.7,865.2 1605.3,864.6 1605.9,864.1 1606.6,863.9 1607.2,863.9 1607.8,864.0 1608.5,864.6 1609.6,865.8 1610.8,868.0 1612.1,870.9 1612.8,873.1 1613.9,876.7 1615.1,881.4 1616.3,886.7 1617.6,892.7 1620.2,907.0 1623.1,925.0 1628.6,961.3 1631.0,976.8 1633.5,991.1 1635.3,1000.6 1636.5,1006.3 1637.8,1011.4 1639.0,1015.8 1640.2,1019.5 1641.4,1022.4 1642.7,1024.6 1643.3,1025.4 1643.9,1026.1 1644.5,1026.5 1645.1,1026.7 1645.7,1026.6 1646.3,1026.4 1647.1,1025.9 1648.2,1024.6 1649.4,1022.4 1650.6,1019.4 1651.4,1017.1 1652.5,1013.5 1653.7,1008.7 1654.9,1003.3 1656.1,997.3 1658.6,983.9 1661.6,964.9 1669.1,916.0 1671.4,902.3 1673.9,889.4 1675.1,883.8 1676.3,878.7 1677.5,874.4 1678.8,870.8 1680.0,867.9 1681.2,865.7 1681.8,865.0 1682.4,864.4 1683.1,864.0 1683.7,863.9 1684.3,863.9 1684.9,864.1 1685.7,864.7 1686.7,866.1 1688.0,868.4 1689.2,871.4 1689.9,873.7 1691.0,877.4 1692.2,882.2 1693.5,887.7 1694.7,893.7 1697.1,907.2 1700.2,926.2 1707.7,975.2 1710.0,988.8 1712.4,1001.6 1713.7,1007.2 1714.9,1012.1 1716.1,1016.4 1717.3,1020.0 1718.6,1022.8 1719.8,1024.9 1720.4,1025.7 1721.0,1026.2 1721.8,1026.6 1722.2,1026.7 1722.8,1026.6 1723.4,1026.3 1724.1,1025.8 1724.7,1025.2 1725.3,1024.3 1726.0,1022.9 1727.1,1020.5 1728.3,1017.0 1729.6,1012.8 1730.8,1007.9 1733.2,996.3 1735.7,982.7 1738.7,963.7 1746.1,915.7 1748.5,901.2 1751.0,888.5 1752.2,882.9 1753.4,878.0 1754.7,873.8 1755.9,870.3 1757.1,867.5 1758.3,865.5 1758.9,864.8 1759.6,864.3 1760.2,864.0 1760.8,863.9 1761.4,864.0 1762.0,864.3 1762.8,864.9 1763.8,866.4 1765.1,868.8 1766.3,872.0 1767.1,874.4 1768.1,878.1 1769.3,883.0 1771.8,894.7 1774.2,908.4 1776.8,924.5 1784.7,975.5 1787.1,989.9 1789.1,1000.3 1790.2,1005.3 1791.5,1011.1 1792.6,1015.1 1793.8,1018.9 1795.1,1021.9 1796.3,1024.3 1796.9,1025.2 1797.5,1025.9 1798.1,1026.3 1798.7,1026.6 1799.3,1026.7 1800.0,1026.5 1800.6,1026.2 1801.2,1025.7 1802.4,1024.0 1803.2,1022.5 1804.2,1020.0 1805.5,1016.4 1806.7,1012.0 1807.9,1007.1 1810.4,995.3 1812.8,981.5 1815.4,965.4 1823.2,914.5 1825.7,900.1 1827.5,890.5 1828.7,884.7 1829.9,879.6 1831.2,875.1 1832.4,871.4 1833.6,868.4 1834.8,866.1 1835.4,865.2 1836.1,864.6 1836.7,864.1 1837.3,863.9 1837.9,863.9 1838.5,864.0 1839.1,864.4 1839.7,865.0 1841.0,866.7 1841.7,868.2 1842.8,870.8 1844.0,874.5 1845.2,878.9 1846.5,883.9 1848.9,895.7 1851.4,909.6 1854.0,925.8 1861.3,973.8 1863.8,988.4 1866.0,1000.5 1867.3,1006.2 1868.5,1011.3 1869.7,1015.7 1870.9,1019.4 1872.2,1022.4 1872.9,1023.8 1874.0,1025.4 1874.6,1026.0 1875.2,1026.4 1875.8,1026.6 1876.5,1026.6 1877.1,1026.4 1877.7,1026.0 1878.3,1025.4 1878.9,1024.6 1879.7,1023.3 1880.7,1021.0 1882.0,1017.7 1883.2,1013.6 1884.4,1008.8 1885.6,1003.4 1886.9,997.5 1889.5,983.1 1892.4,965.1 1899.9,916.1 1902.3,901.6 1904.6,889.5 1905.8,883.9 1907.1,878.8 1908.3,874.5 1909.5,870.9 1910.7,867.9 1912.0,865.8 1912.6,865.0 1913.2,864.4 1913.8,864.0 1914.4,863.9 1915.0,863.9 1915.6,864.1 1916.4,864.7 1917.5,866.1 1918.7,868.3 1919.9,871.4 1920.7,873.6 1921.7,877.3 1923.1,882.8 1925.4,893.6 1928.0,908.0 1930.9,926.1 1938.3,974.1 1940.7,988.7 1942.6,998.5 1943.8,1004.4 1945.0,1009.6 1946.2,1014.3 1947.4,1018.3 1948.7,1021.4 1949.9,1023.9 1950.5,1024.9 1951.1,1025.6 1951.9,1026.3 1952.3,1026.5 1953.0,1026.7 1953.6,1026.6 1954.2,1026.3 1954.8,1025.9 1955.4,1025.2 1956.6,1023.2 1957.9,1020.5 1959.1,1017.1 1960.3,1012.9 1961.5,1008.0 1964.0,996.4 1966.6,981.9 1969.5,963.8 1976.8,915.8 1979.3,901.3 1981.3,890.8 1982.5,885.0 1983.7,879.9 1984.9,875.4 1986.2,871.6 1987.4,868.5 1988.6,866.2 1989.2,865.3 1989.8,864.6 1990.4,864.2 1991.1,863.9 1991.5,863.9 1992.1,864.0 1992.7,864.3 1993.4,864.8 1994.0,865.5 1994.6,866.4 1995.3,867.8 1996.4,870.3 1997.6,873.8 1998.9,878.0 2000.2,883.6 2002.5,894.6 2005.1,909.2 2008.0,927.4 2014.9,972.5 2017.2,986.3 2019.2,997.1 2020.4,1003.1 2021.7,1008.6 2022.7,1012.8 2024.0,1017.0 2025.2,1020.4 2025.9,1022.3 2027.0,1024.3 2028.2,1025.8 2028.8,1026.3 2029.5,1026.6 2030.1,1026.7 2030.7,1026.5 2031.3,1026.2 2031.9,1025.7 2033.1,1024.0 2034.4,1021.5 2035.6,1018.3 2036.8,1014.4 2038.2,1009.1 2039.4,1003.7 2040.6,997.8 2043.5,981.7 2046.1,965.5 2053.9,914.6 2056.4,900.2 2058.2,890.6 2059.5,884.8 2060.8,879.1 2061.9,875.2 2063.1,871.5 2064.3,868.4 2065.6,866.1 2066.2,865.3 2066.8,864.6 2067.6,864.1 2068.0,863.9 2068.6,863.9 2069.2,864.0 2069.9,864.4 2070.5,865.0 2071.1,865.7 2072.3,867.9 2073.5,870.8 2074.8,874.4 2076.0,878.8 2077.4,884.5 2079.6,895.6 2082.2,910.4 2084.7,925.7 2091.9,972.7 2093.7,983.9 2095.6,994.2 2097.5,1004.0 2099.4,1011.8 2101.2,1018.1 2101.8,1019.8 2102.9,1022.3 2104.1,1024.6 2104.9,1025.6 2105.5,1026.1 2106.1,1026.5 2106.6,1026.6 2107.2,1026.6 2108.0,1026.4 2108.6,1025.9 2109.2,1025.3 2110.2,1023.7 2111.5,1021.1 2112.2,1019.1 2113.5,1015.3 2114.5,1011.4 2115.8,1006.3 2118.2,994.4 2120.5,981.4"/>
</g>
<g id="curves3">
<path class="r" stroke-width="5.8" d="M196.9,1637.7 199.3,1629.4 201.8,1622.3 205.5,1613.4 206.7,1610.9 207.3,1609.9 207.9,1609.0 208.5,1608.4 210.4,1607.0 212.2,1605.9 213.4,1605.3 214.7,1604.8 215.9,1604.6 217.1,1604.5 217.7,1604.7 218.9,1605.2 220.8,1606.7 223.2,1609.4 226.9,1614.2 228.7,1617.4 233.0,1625.8 237.3,1633.0 239.7,1636.6 241.0,1638.0 243.4,1640.6 245.3,1642.2 246.5,1642.9 247.1,1643.1 247.7,1643.1 248.3,1642.9 248.9,1642.6 249.5,1642.0 250.8,1640.3 252.0,1638.0 253.8,1633.8 254.4,1631.3 255.0,1628.1 256.9,1616.8 259.9,1600.4 260.6,1597.6 262.4,1591.0 263.6,1587.3 264.2,1586.0 264.8,1585.3 265.5,1585.3 266.1,1586.2 266.7,1587.8 268.5,1594.1 269.1,1595.9 269.7,1597.0 271.0,1598.4 272.2,1599.7 273.4,1600.9 275.2,1602.1 276.5,1602.5 277.1,1602.6 277.7,1602.4 278.3,1601.6 278.9,1600.3 280.1,1596.1 281.4,1590.7 282.0,1587.2 282.6,1581.4 283.8,1567.2 286.3,1543.1 286.9,1536.0 288.1,1519.3 289.3,1504.7 289.9,1498.6 290.6,1494.8 291.8,1488.8 293.0,1484.3 293.6,1482.8 294.2,1481.9 294.8,1481.8 295.4,1483.1 296.1,1485.5 297.9,1494.5 298.5,1496.4 299.7,1499.3 301.0,1501.8 301.6,1502.7 302.2,1503.3 302.8,1503.5 303.4,1503.1 304.0,1501.9 304.6,1500.2 306.5,1493.5 307.7,1489.6 308.3,1488.4 308.9,1488.0 309.5,1488.3 310.1,1489.0 310.8,1490.2 313.2,1496.7 314.4,1499.5 316.9,1504.0 317.5,1505.0 318.1,1505.7 318.7,1506.1 319.3,1506.1 319.9,1505.8 320.5,1505.4 321.8,1504.1 324.2,1501.2 325.4,1500.2 326.1,1499.9 326.7,1499.9 327.3,1500.0 327.9,1500.3 330.3,1502.2 331.6,1502.8 332.2,1502.9 332.8,1502.5 333.4,1501.6 334.0,1500.3 335.2,1496.8 339.5,1483.1 342.0,1474.1 344.4,1463.8 348.1,1445.1 352.4,1424.9 354.8,1415.4 357.3,1407.2 359.1,1401.9 360.9,1397.3 362.8,1393.0 364.6,1389.4 365.8,1387.6 367.1,1386.4 369.5,1384.1 371.3,1382.7 373.2,1381.6 374.4,1381.1 375.6,1380.8 376.9,1380.9 378.1,1381.4 379.3,1382.3 380.5,1383.6 381.8,1385.3 383.6,1388.1 386.0,1392.3 387.3,1395.0 388.5,1398.5 391.5,1408.6 395.2,1419.2 397.1,1424.2 398.3,1427.0 398.9,1428.2 400.1,1430.1 402.6,1433.2 404.4,1435.3 405.6,1436.5 406.9,1437.4 408.1,1438.1 409.3,1438.4 410.5,1438.4 411.7,1438.1 413.0,1437.5 414.2,1436.5 415.4,1435.3 416.6,1433.7 417.9,1431.9 420.3,1427.5 422.2,1423.6 424.6,1417.8 432.6,1397.0 435.6,1389.5 438.7,1382.9 441.1,1378.6 442.4,1376.9 443.6,1375.4 444.8,1374.2 446.0,1373.3 447.9,1372.7 449.1,1372.6 450.3,1372.9 451.5,1373.4 452.1,1373.9 453.4,1375.1 454.0,1375.8 455.2,1377.4 457.0,1380.5 459.5,1385.5 461.3,1390.0 463.8,1396.5 470.5,1416.0 473.0,1422.8 475.4,1429.0 477.9,1434.4 479.1,1436.7 480.3,1438.7 481.5,1440.4 482.8,1441.8 484.0,1442.9 484.6,1443.2 485.8,1443.7 487.0,1443.9 488.3,1443.6 489.5,1443.2 490.7,1442.3 491.9,1441.2 493.2,1439.7 494.4,1438.0 495.6,1436.0 497.4,1432.6 499.9,1427.2 502.3,1421.2 510.3,1399.6 513.4,1391.6 516.4,1384.6 518.9,1380.0 520.1,1378.0 521.3,1376.3 522.5,1374.9 523.8,1373.8 525.0,1373.0 526.2,1372.6 527.4,1372.4 528.0,1372.4 529.3,1372.9 530.5,1373.5 531.1,1374.0 532.3,1375.3 532.9,1376.1 534.2,1377.9 535.4,1380.0 536.6,1382.4 538.5,1386.4 540.9,1392.5 547.6,1411.2 550.1,1417.7 552.5,1423.6 555.0,1428.7 556.2,1430.7 557.4,1432.5 559.3,1434.6 559.9,1435.1 560.5,1435.5 561.7,1436.0 562.9,1436.2 563.5,1436.2 564.8,1435.8 566.0,1435.2 567.2,1434.1 568.4,1432.8 569.7,1431.1 570.9,1429.2 573.3,1424.5 575.8,1418.8 578.2,1412.3 580.7,1405.3 586.2,1389.0 589.3,1380.4 591.7,1374.2 594.2,1368.8 596.0,1365.5 597.2,1363.6 598.4,1362.0 599.7,1360.7 600.9,1359.7 602.1,1359.2 603.3,1358.9 603.9,1358.8 604.6,1359.0 605.2,1359.2 606.4,1360.1 607.6,1361.3 608.8,1362.8 610.1,1364.6 613.7,1370.5 615.0,1372.9 616.2,1375.9 619.9,1385.9 621.1,1389.0 625.4,1399.4 627.2,1403.3 628.4,1405.5 629.0,1406.4 632.7,1411.2 634.6,1413.3 636.4,1414.8 637.6,1415.4 638.2,1415.6 638.8,1415.6 640.1,1415.4 640.7,1415.1 641.9,1414.3 643.1,1413.1 644.3,1411.7 647.4,1407.7 648.0,1406.6 649.2,1403.8 651.1,1399.1 653.5,1393.5 654.1,1392.3 654.8,1391.6 655.4,1391.8 656.0,1395.0 657.8,1410.8 659.0,1419.0 659.6,1422.7 660.3,1425.5 661.5,1429.2 662.1,1430.7 663.9,1434.3 667.0,1440.8 667.6,1442.4 668.2,1444.4 668.8,1447.9 670.7,1462.9 671.9,1472.0 672.5,1476.2 673.1,1478.9 673.7,1479.8 674.3,1480.3 676.2,1481.2 681.1,1484.0 682.9,1485.2 684.7,1486.6 686.6,1488.2 688.4,1490.2 689.6,1491.8 690.9,1493.7 691.5,1494.8 692.1,1496.2 697.0,1514.1 699.4,1522.4 703.1,1533.7 704.9,1538.5 706.2,1540.9 708.6,1545.2 710.5,1548.3 711.7,1550.1 712.9,1551.6 714.1,1552.9 715.3,1553.7 716.6,1554.2 717.2,1554.2 718.4,1554.0 719.6,1553.3 720.9,1552.4 722.1,1551.2 723.3,1549.8 725.8,1546.6 726.4,1545.7 728.8,1540.2 731.3,1534.3 740.4,1510.0 742.3,1505.6 744.7,1500.3 747.2,1495.9 749.0,1493.3 750.2,1492.0 752.1,1490.4 752.7,1490.2 753.9,1489.8 755.1,1489.7 756.4,1489.9 757.6,1490.5 758.8,1491.4 760.0,1492.6 761.3,1494.1 762.5,1495.9 763.7,1498.0 764.9,1500.3 767.4,1505.6 769.8,1511.6 776.6,1529.5 779.6,1537.3 782.7,1544.2 783.9,1546.7 785.1,1548.8 787.0,1551.6 788.2,1553.1 789.4,1554.3 790.6,1555.2 791.2,1555.5 791.9,1555.7 793.7,1555.8 794.9,1555.7 795.5,1555.4 796.8,1554.6 798.0,1553.5 799.8,1551.3 801.0,1549.5 802.3,1547.4 804.7,1542.5 807.2,1536.8 809.6,1530.6 817.0,1511.0 819.4,1505.1 821.2,1501.1 823.7,1496.6 824.9,1494.7 826.1,1493.1 827.4,1491.7 828.6,1490.8 829.8,1490.1 830.4,1489.8 831.0,1489.7 833.5,1490.0 834.1,1490.2 834.7,1490.6 835.9,1491.6 837.2,1492.8 838.4,1494.4 839.6,1496.2 842.1,1500.7 843.9,1504.7 845.1,1507.5 848.2,1515.3 855.5,1534.8 858.0,1540.7 860.4,1545.9 861.6,1548.1 862.9,1550.1 864.1,1551.9 865.3,1553.3 866.5,1554.5 867.8,1555.3 869.0,1555.7 870.2,1555.9 871.4,1555.7 872.7,1555.3 873.9,1554.5 875.1,1553.3 876.3,1551.9 877.6,1550.1 878.8,1548.1 880.0,1545.9 882.5,1540.7 884.9,1534.8 892.2,1515.3 895.3,1507.5 897.8,1502.0 899.0,1499.5 900.2,1497.3 901.4,1495.3 902.7,1493.6 903.9,1492.1 905.1,1491.1 906.3,1490.2 906.9,1490.0 909.4,1489.7 910.0,1489.8 911.2,1490.4 912.4,1491.2 913.1,1491.8 914.9,1493.8 916.1,1495.6 917.3,1497.6 919.8,1502.4 922.2,1508.0 924.7,1514.2 932.6,1535.3 935.1,1541.2 936.9,1545.1 938.2,1547.4 939.4,1549.5 940.6,1551.3 941.8,1552.8 943.0,1554.1 943.7,1554.6 944.9,1555.4 945.5,1555.7 946.1,1555.8 948.6,1555.7 949.2,1555.6 950.4,1554.8 951.6,1553.9 952.8,1552.6 954.1,1551.1 956.5,1547.2 959.0,1542.4 961.4,1536.8 963.9,1530.6 970.0,1514.4 973.0,1506.9 974.9,1502.8 976.1,1500.3 977.3,1498.0 978.6,1496.1 979.8,1494.4 981.0,1493.0 982.2,1491.9 983.4,1491.2 984.7,1490.7 985.3,1490.6 986.5,1490.8 987.7,1491.1 988.3,1491.4 990.2,1493.0 990.8,1493.6 992.0,1495.2 993.9,1498.1 996.3,1502.8 998.1,1506.9 1000.6,1513.1 1007.3,1531.4 1010.4,1539.4 1012.8,1545.2 1015.3,1550.1 1016.5,1552.3 1017.7,1554.1 1019.0,1555.6 1020.2,1556.8 1021.4,1557.7 1022.0,1558.0 1023.2,1558.3 1024.5,1558.5 1025.1,1558.4 1026.3,1557.9 1027.5,1557.2 1028.1,1556.6 1030.0,1554.6 1031.2,1552.9 1032.4,1550.9 1034.9,1546.1 1037.3,1540.4 1039.8,1534.2 1045.9,1517.4 1048.3,1510.9 1050.8,1505.0 1052.6,1501.1 1053.8,1498.8 1055.1,1496.7 1056.3,1494.9 1057.5,1493.4 1058.7,1492.2 1060.0,1491.3 1060.6,1491.0 1061.2,1490.8 1061.8,1490.8 1063.6,1490.8 1064.2,1490.9 1065.5,1491.6 1066.7,1492.6 1067.9,1493.9 1069.1,1495.5 1071.0,1498.4 1073.4,1503.3 1075.9,1508.9 1078.9,1516.9 1086.3,1536.9 1088.7,1542.9 1090.6,1547.0 1093.0,1551.6 1094.2,1553.5 1095.5,1555.1 1096.7,1556.4 1097.9,1557.4 1099.1,1558.1 1099.7,1558.3 1100.4,1558.4 1101.6,1558.3 1102.8,1558.1 1103.4,1557.9 1104.0,1557.5 1105.3,1556.4 1106.5,1555.1 1107.7,1553.5 1108.9,1551.6 1111.4,1546.9 1113.8,1541.4 1116.9,1533.6 1124.8,1512.0 1127.3,1506.0 1129.7,1500.7 1131.0,1498.4 1132.2,1496.4 1133.4,1494.6 1134.6,1493.2 1135.9,1492.0 1136.5,1491.6 1137.1,1491.2 1138.3,1490.8 1139.5,1490.6 1140.8,1490.9 1142.0,1491.4 1143.2,1492.2 1144.4,1493.4 1145.7,1494.9 1146.9,1496.7 1148.1,1498.8 1149.3,1501.1 1151.8,1506.5 1154.2,1512.5 1161.6,1532.6 1164.6,1540.5 1167.1,1546.1 1168.3,1548.6 1169.5,1550.9 1171.4,1553.8 1172.6,1555.4 1173.8,1556.6 1175.0,1557.6 1175.6,1558.0 1176.3,1558.2 1178.1,1558.4 1178.7,1558.4 1179.3,1558.3 1179.9,1558.0 1181.2,1557.3 1182.4,1556.2 1184.2,1554.1 1185.4,1552.2 1186.7,1550.1 1189.1,1545.2 1191.6,1539.4 1194.0,1533.1 1202.0,1511.4 1204.4,1505.5 1206.3,1501.5 1207.5,1499.1 1208.7,1497.0 1209.9,1495.2 1211.1,1493.6 1212.4,1492.4 1213.0,1491.9 1214.2,1491.1 1214.8,1490.8 1215.4,1490.7 1217.9,1490.9 1218.5,1491.1 1219.7,1491.9 1220.9,1493.0 1222.2,1494.4 1223.4,1496.1 1224.6,1498.1 1225.8,1500.3 1227.1,1502.8 1229.5,1508.4 1232.6,1516.3 1239.9,1536.3 1242.4,1542.4 1244.8,1547.8 1246.0,1550.2 1247.3,1552.3 1248.5,1554.1 1249.7,1555.6 1250.9,1556.8 1252.2,1557.7 1253.4,1558.2 1254.6,1558.5 1255.8,1558.3 1257.1,1557.9 1257.7,1557.6 1258.3,1557.1 1259.5,1556.0 1260.7,1554.6 1262.0,1552.9 1263.2,1550.8 1264.4,1548.6 1266.9,1543.3 1269.3,1537.3 1277.3,1515.7 1280.3,1507.9 1282.8,1502.3 1285.2,1497.7 1286.4,1495.8 1287.7,1494.1 1288.9,1492.8 1290.1,1491.7 1290.7,1491.3 1291.3,1491.0 1292.6,1490.8 1293.8,1490.7 1294.4,1490.7 1295.0,1491.0 1296.2,1491.6 1296.8,1492.0 1298.1,1493.2 1299.9,1495.5 1301.1,1497.4 1302.4,1499.6 1304.2,1503.3 1306.6,1508.9 1309.1,1515.2 1317.0,1536.9 1319.5,1542.9 1321.3,1547.0 1322.6,1549.4 1323.8,1551.6 1325.0,1553.5 1326.2,1555.1 1327.4,1556.5 1328.7,1557.4 1329.9,1558.2 1330.5,1558.3 1333.0,1558.3 1333.6,1558.2 1334.2,1557.9 1335.4,1557.0 1336.6,1555.8 1338.5,1553.5 1339.7,1551.5 1341.5,1548.2 1343.4,1544.2 1347.0,1535.2 1349.5,1529.7 1350.7,1526.2 1351.3,1523.5 1351.9,1520.1 1353.8,1508.4 1355.0,1502.5 1355.6,1500.7 1356.2,1500.2 1357.4,1499.5 1360.5,1498.6 1361.7,1498.0 1362.3,1497.5 1363.0,1496.7 1364.8,1494.0 1366.0,1492.6 1367.8,1491.1 1369.1,1490.3 1370.3,1489.7 1371.5,1489.4 1372.1,1489.5 1373.4,1490.1 1374.6,1491.1 1375.8,1492.5 1377.0,1494.3 1378.3,1496.3 1381.9,1502.8 1383.8,1507.3 1386.8,1515.8 1394.2,1535.3 1397.2,1542.5 1399.7,1547.4 1400.9,1549.5 1402.1,1551.3 1403.3,1552.9 1404.6,1554.1 1405.8,1555.1 1406.4,1555.4 1407.6,1555.7 1408.9,1555.9 1410.1,1555.7 1411.3,1555.1 1412.5,1554.3 1413.8,1553.1 1415.0,1551.6 1416.2,1549.8 1417.4,1547.7 1418.7,1545.4 1421.1,1540.2 1423.5,1534.2 1430.9,1514.7 1433.3,1508.5 1436.4,1501.5 1437.6,1499.1 1438.9,1496.9 1440.7,1494.1 1441.9,1492.6 1443.1,1491.4 1444.4,1490.4 1445.0,1490.1 1445.6,1489.9 1447.4,1489.8 1448.6,1489.9 1449.3,1490.1 1450.5,1490.9 1451.7,1492.0 1453.5,1494.1 1454.8,1496.0 1456.0,1498.0 1458.4,1502.9 1460.9,1508.5 1463.3,1514.8 1470.7,1534.3 1473.1,1540.3 1475.0,1544.3 1477.4,1548.9 1478.6,1550.8 1479.9,1552.4 1481.1,1553.7 1482.3,1554.8 1483.5,1555.5 1484.1,1555.7 1484.8,1555.8 1487.2,1555.6 1487.8,1555.4 1489.0,1554.6 1490.3,1553.5 1491.5,1552.1 1492.7,1550.4 1493.9,1548.4 1495.2,1546.2 1496.4,1543.8 1498.8,1538.3 1501.9,1530.5 1509.2,1511.0 1511.7,1505.1 1514.1,1499.9 1515.4,1497.6 1516.6,1495.6 1517.8,1493.8 1519.0,1492.4 1520.3,1491.2 1521.5,1490.4 1522.7,1489.9 1523.9,1489.7 1525.2,1489.8 1526.4,1490.3 1527.6,1491.0 1528.8,1492.2 1530.1,1493.6 1531.3,1495.3 1532.5,1497.3 1535.0,1502.0 1537.4,1507.6 1539.8,1513.7 1547.8,1534.8 1550.3,1540.7 1552.7,1545.9 1555.1,1550.2 1556.4,1551.9 1557.6,1553.3 1558.8,1554.4 1560.0,1555.3 1560.7,1555.6 1562.5,1555.8 1563.7,1555.8 1564.3,1555.5 1565.6,1554.9 1566.8,1553.9 1568.6,1551.8 1569.8,1550.1 1571.1,1548.1 1573.5,1543.3 1576.0,1537.8 1578.4,1531.6 1586.4,1510.5 1588.8,1504.6 1590.7,1500.7 1591.9,1498.3 1593.1,1496.2 1594.3,1494.4 1595.5,1492.8 1596.8,1491.5 1597.4,1491.0 1598.6,1490.2 1599.2,1489.9 1599.8,1489.8 1602.3,1489.9 1602.9,1490.0 1604.1,1490.8 1605.3,1491.8 1606.6,1493.1 1607.8,1494.7 1609.0,1496.6 1610.2,1498.8 1611.5,1501.2 1612.7,1503.8 1614.5,1508.1 1617.6,1515.8 1624.3,1533.8 1626.8,1539.8 1629.2,1545.1 1630.4,1547.4 1631.7,1549.5 1632.9,1551.3 1634.1,1552.9 1635.3,1554.1 1636.6,1555.0 1637.8,1555.6 1638.4,1555.8 1639.0,1555.9 1640.2,1555.8 1641.5,1555.4 1642.1,1555.2 1642.7,1554.8 1643.9,1553.7 1645.1,1552.4 1646.4,1550.7 1647.6,1548.8 1650.0,1544.2 1652.5,1538.7 1655.5,1531.1 1662.9,1511.5 1665.3,1505.5 1667.8,1500.3 1670.2,1495.9 1671.4,1494.1 1672.7,1492.6 1673.9,1491.4 1675.1,1490.4 1676.3,1490.0 1677.6,1489.7 1678.8,1489.7 1679.4,1489.9 1680.6,1490.5 1681.9,1491.4 1683.1,1492.6 1684.3,1494.1 1685.5,1496.0 1686.8,1498.0 1689.2,1502.9 1691.6,1508.6 1694.1,1514.8 1701.4,1534.3 1703.9,1540.3 1705.7,1544.3 1707.0,1546.7 1708.2,1548.9 1709.4,1550.8 1710.6,1552.4 1711.8,1553.8 1712.5,1554.3 1713.7,1555.2 1714.3,1555.5 1714.9,1555.7 1717.4,1555.8 1718.0,1555.7 1718.6,1555.4 1719.8,1554.6 1721.0,1553.5 1722.3,1552.1 1723.5,1550.4 1724.7,1548.4 1727.2,1543.8 1730.2,1536.8 1732.7,1530.5 1740.0,1511.0 1742.5,1505.1 1744.3,1501.1 1746.7,1496.5 1748.0,1494.6 1749.2,1493.0 1750.4,1491.7 1751.6,1490.7 1752.9,1490.0 1753.5,1489.8 1754.1,1489.7 1755.3,1489.8 1756.5,1490.0 1757.1,1490.2 1757.8,1490.6 1759.0,1491.6 1760.2,1492.9 1761.4,1494.4 1762.7,1496.3 1765.1,1500.8 1766.9,1504.7 1768.2,1507.6 1771.2,1515.3 1778.6,1534.9 1781.0,1540.7 1783.5,1545.9 1784.7,1548.2 1785.9,1550.2 1787.1,1551.9 1788.4,1553.3 1789.6,1554.5 1790.8,1555.3 1792.0,1555.7 1793.3,1555.9 1794.5,1555.7 1795.7,1555.2 1796.9,1554.4 1798.2,1553.3 1799.4,1551.8 1800.6,1550.1 1801.8,1548.1 1804.3,1543.3 1806.7,1537.8 1809.2,1531.6 1817.1,1510.5 1819.6,1504.6 1821.4,1500.7 1822.6,1498.3 1824.5,1495.2 1825.7,1493.6 1826.9,1492.1 1828.1,1491.0 1829.4,1490.2 1830.0,1490.0 1831.2,1489.8 1832.4,1489.7 1833.0,1489.8 1834.3,1490.4 1835.5,1491.2 1836.7,1492.4 1837.9,1493.9 1839.2,1495.6 1840.4,1497.7 1842.8,1502.5 1845.3,1508.1 1847.7,1514.3 1855.7,1535.4 1858.1,1541.2 1860.0,1545.1 1861.2,1547.5 1862.4,1549.5 1863.6,1551.4 1864.9,1552.9 1866.1,1554.1 1866.7,1554.6 1867.9,1555.4 1868.5,1555.7 1869.2,1555.8 1871.6,1555.7 1872.2,1555.5 1873.4,1554.7 1874.7,1553.7 1875.9,1552.3 1877.1,1550.7 1878.3,1548.8 1879.6,1546.6 1880.8,1544.2 1883.8,1537.3 1886.9,1529.4 1893.6,1511.5 1896.1,1505.5 1898.5,1500.3 1900.4,1496.9 1901.6,1495.0 1902.8,1493.3 1904.0,1491.9 1905.3,1490.8 1906.5,1490.2 1907.7,1489.7 1908.9,1489.7 1910.2,1490.0 1911.4,1490.5 1912.0,1490.9 1913.2,1492.0 1914.5,1493.4 1915.7,1495.0 1916.9,1497.0 1919.3,1501.6 1921.8,1507.1 1924.9,1514.8 1932.2,1534.4 1934.7,1540.3 1937.1,1545.5 1939.5,1549.9 1940.8,1551.6 1942.0,1553.1 1943.2,1554.3 1944.4,1555.2 1945.1,1555.5 1946.9,1555.9 1948.1,1555.8 1948.7,1555.6 1950.0,1555.0 1951.2,1554.1 1953.0,1552.1 1954.2,1550.4 1955.5,1548.4 1957.9,1543.8 1960.4,1538.2 1962.8,1532.1 1970.8,1511.0 1973.2,1505.1 1975.1,1501.1 1976.3,1498.7 1977.5,1496.5 1978.7,1494.6 1979.9,1493.0 1981.2,1491.7 1982.4,1490.7 1983.6,1490.0 1984.2,1489.8 1986.7,1489.8 1987.3,1489.9 1987.9,1490.2 1989.1,1491.1 1990.4,1492.2 1991.6,1493.6 1992.8,1495.3 1994.0,1497.3 1996.5,1502.0 1998.9,1507.6 2002.0,1515.3 2009.3,1534.9 2011.8,1540.7 2013.6,1544.7 2015.4,1548.2 2016.7,1550.2 2017.9,1551.9 2019.1,1553.3 2020.3,1554.5 2021.6,1555.2 2022.8,1555.8 2024.0,1555.8 2025.2,1555.7 2026.5,1555.3 2027.1,1554.9 2028.3,1553.9 2029.5,1552.6 2031.4,1550.1 2032.6,1548.1 2035.0,1543.3 2037.5,1537.7 2040.5,1530.0 2047.9,1510.4 2049.7,1506.0 2052.2,1500.6 2054.6,1496.2 2056.5,1493.5 2057.7,1492.1 2058.9,1491.0 2059.5,1490.6 2060.7,1490.0 2062.0,1489.7 2063.2,1489.7 2064.4,1490.1 2065.6,1490.7 2066.9,1491.8 2068.1,1493.1 2069.3,1494.7 2070.5,1496.6 2073.0,1501.2 2076.0,1508.1 2078.5,1514.3 2085.8,1533.8 2088.3,1539.8 2090.1,1543.9 2092.0,1547.5 2093.2,1549.5 2094.4,1551.4 2096.2,1553.6 2097.5,1554.6 2098.7,1555.4 2099.9,1555.7 2101.8,1555.8 2102.4,1555.7 2103.0,1555.5 2104.2,1554.7 2105.4,1553.7 2107.3,1551.6 2108.5,1549.8 2109.7,1547.7 2110.9,1545.4 2113.4,1540.1 2116.4,1532.6 2120.5,1521.8"/>
<path class="b" stroke-width="9.2" stroke-dasharray="26.1 22.95" d="M196.9,1639.3 197.5,1639.1 198.1,1638.8 198.7,1638.3 200.0,1636.8 201.2,1635.0 203.6,1630.5 209.1,1619.4 211.0,1616.3 212.8,1613.7 214.8,1611.3 215.9,1610.3 217.1,1609.2 218.3,1608.4 219.5,1607.8 220.3,1607.5 221.4,1607.4 222.1,1607.4 223.2,1607.5 224.4,1608.0 225.7,1608.6 226.9,1609.4 228.1,1610.3 229.9,1612.2 231.2,1613.7 233.0,1616.2 240.4,1627.6 242.2,1630.3 245.3,1634.4 245.9,1635.1 246.5,1635.7 247.7,1636.5 248.3,1636.8 249.5,1637.2 250.1,1637.2 250.9,1637.1 252.0,1636.5 253.2,1635.4 254.0,1634.5 255.0,1632.8 256.3,1629.9 258.1,1623.7 260.6,1613.2 266.1,1587.2 267.3,1582.4 268.5,1578.7 269.7,1575.9 271.0,1573.5 272.2,1571.5 273.4,1569.8 274.6,1568.3 275.9,1567.0 277.1,1566.0 279.5,1564.3 280.7,1563.1 281.4,1562.4 282.6,1560.7 283.2,1559.4 283.8,1557.6 284.4,1555.4 285.6,1550.3 287.5,1540.8 288.7,1532.8 292.4,1505.5 294.2,1494.2 295.4,1488.2 296.0,1485.9 296.7,1484.0 297.3,1482.7 297.9,1481.9 298.5,1481.5 299.1,1481.4 299.9,1481.6 300.9,1482.3 301.6,1482.9 304.0,1485.7 304.6,1486.3 305.2,1486.7 305.8,1486.9 306.5,1486.9 307.1,1486.7 307.7,1486.4 309.5,1485.1 310.7,1484.5 311.5,1484.5 312.0,1484.6 312.6,1484.8 313.8,1485.8 315.2,1487.5 316.9,1490.0 319.3,1494.0 320.5,1495.8 321.3,1496.7 322.4,1497.7 323.7,1498.5 325.0,1498.9 327.9,1499.4 329.1,1499.7 330.3,1500.2 332.8,1501.3 334.0,1501.6 334.6,1501.6 335.2,1501.3 336.0,1500.7 337.1,1499.6 338.9,1496.8 340.7,1493.2 342.6,1488.9 344.4,1483.7 346.8,1475.6 348.7,1470.5 350.5,1464.7 360.9,1427.7 364.0,1417.7 366.4,1410.4 369.0,1403.6 372.6,1395.5 375.0,1390.4 377.4,1385.5 378.1,1385.1 379.3,1384.4 380.5,1384.1 381.7,1384.1 383.0,1384.4 384.2,1385.0 385.4,1385.8 386.6,1386.9 388.0,1388.4 389.7,1390.9 391.5,1394.5 394.6,1401.6 398.9,1412.4 400.7,1416.7 403.2,1421.8 405.6,1426.1 407.4,1428.9 408.7,1430.6 409.9,1432.0 411.1,1433.2 412.5,1434.2 414.2,1434.9 415.4,1435.2 416.6,1435.1 417.8,1434.8 419.1,1434.2 420.3,1433.3 421.5,1432.1 422.7,1430.7 424.0,1429.1 426.4,1425.1 428.2,1421.6 430.7,1416.4 438.7,1397.7 441.1,1392.3 444.2,1386.2 446.6,1382.2 448.0,1380.3 449.7,1378.4 450.9,1377.4 452.1,1376.7 453.3,1376.2 454.6,1376.1 455.8,1376.2 457.0,1376.7 458.2,1377.5 459.0,1378.1 460.1,1379.2 461.3,1380.8 463.3,1383.8 465.6,1388.1 467.4,1392.1 469.9,1398.0 476.6,1415.4 479.0,1421.5 481.6,1427.3 484.1,1432.0 485.2,1433.8 486.4,1435.6 487.6,1437.1 488.8,1438.3 490.1,1439.2 491.3,1439.8 492.5,1440.1 493.7,1440.1 495.0,1439.8 495.7,1439.5 496.8,1438.8 498.0,1437.8 500.0,1435.6 502.3,1432.2 504.7,1427.8 507.2,1422.6 510.3,1415.4 517.8,1396.9 520.2,1391.4 522.5,1386.8 524.9,1382.6 526.2,1380.9 527.5,1379.2 528.6,1378.1 529.8,1377.1 531.1,1376.4 532.4,1376.0 533.5,1376.0 534.7,1376.2 536.0,1376.8 537.2,1377.7 538.4,1378.9 539.6,1380.4 540.9,1382.1 542.1,1384.1 544.1,1387.9 546.5,1393.2 554.3,1412.2 556.9,1418.1 558.6,1421.6 559.8,1423.9 561.1,1426.0 562.3,1427.8 563.5,1429.3 564.7,1430.5 566.0,1431.5 567.2,1432.1 568.4,1432.4 569.6,1432.4 570.8,1432.1 572.2,1431.4 573.3,1430.6 574.5,1429.3 576.4,1427.0 578.3,1423.8 580.8,1419.0 582.6,1414.8 584.9,1409.2 592.3,1389.7 594.7,1383.5 597.2,1377.7 599.6,1372.6 600.8,1370.4 602.1,1368.5 603.3,1366.8 604.5,1365.3 605.7,1364.2 606.5,1363.7 607.6,1363.1 608.8,1362.9 610.0,1362.9 610.8,1363.1 611.9,1363.6 613.1,1364.4 614.3,1365.4 615.5,1366.6 617.4,1369.0 619.2,1372.1 621.0,1375.7 623.6,1381.2 629.0,1393.0 632.2,1399.2 634.7,1403.4 636.9,1406.7 638.8,1409.0 640.6,1410.7 641.4,1411.2 642.5,1411.7 643.8,1412.0 644.9,1412.1 645.5,1412.0 646.3,1411.7 647.4,1411.3 648.6,1410.5 649.2,1410.1 650.0,1409.3 651.0,1408.0 652.9,1405.4 655.3,1401.3 656.1,1400.3 656.5,1399.9 657.1,1399.9 657.8,1400.4 658.4,1401.3 659.6,1404.1 663.9,1416.7 668.8,1429.3 670.0,1433.1 671.8,1440.7 674.4,1453.3 676.1,1459.8 678.0,1470.0 679.3,1476.6 681.0,1483.2 681.8,1485.6 682.8,1488.3 683.6,1489.7 685.5,1492.2 687.1,1494.2 689.0,1495.9 690.8,1497.3 693.4,1498.8 696.5,1501.0 697.7,1501.7 698.8,1502.1 706.7,1525.0 709.3,1531.5 712.4,1538.2 714.1,1541.4 715.3,1543.6 716.5,1545.4 717.7,1547.0 719.0,1548.3 720.2,1549.2 721.4,1549.9 722.6,1550.2 723.9,1550.2 724.6,1550.0 725.8,1549.6 727.1,1549.0 728.1,1548.1 728.9,1547.3 730.0,1546.1 731.2,1544.4 733.6,1540.2 736.1,1535.3 738.7,1529.5 746.5,1511.2 748.9,1506.0 750.9,1502.3 752.2,1500.2 753.4,1498.4 754.6,1496.9 755.8,1495.6 757.1,1494.5 758.3,1493.8 759.5,1493.3 760.7,1493.2 761.8,1493.2 763.0,1493.6 764.2,1494.3 765.5,1495.3 766.7,1496.5 767.9,1498.0 769.1,1499.8 770.5,1502.0 772.8,1506.3 775.3,1511.5 783.2,1530.4 786.3,1537.2 787.7,1540.0 789.3,1543.2 791.8,1547.1 793.0,1548.6 794.4,1550.1 795.6,1551.1 796.8,1551.8 798.1,1552.3 799.3,1552.4 800.5,1552.3 801.7,1551.8 802.8,1551.2 803.6,1550.6 804.6,1549.6 805.9,1548.2 807.9,1545.4 810.3,1541.2 812.1,1537.5 814.4,1532.5 821.3,1516.0 823.8,1510.4 826.2,1505.3 828.7,1500.9 829.9,1499.0 831.1,1497.4 832.2,1496.2 833.4,1495.0 834.6,1494.1 835.4,1493.7 836.6,1493.3 837.8,1493.2 839.1,1493.3 840.1,1493.7 841.4,1494.4 842.6,1495.5 843.8,1496.7 845.0,1498.3 846.3,1500.1 847.6,1502.3 849.9,1506.7 852.4,1511.9 859.9,1529.8 862.9,1536.7 865.8,1542.4 868.3,1546.5 869.5,1548.1 870.7,1549.5 872.0,1550.7 873.2,1551.5 874.0,1551.9 875.2,1552.3 876.4,1552.4 877.6,1552.2 878.9,1551.7 879.9,1551.1 880.7,1550.4 881.9,1549.2 883.1,1547.8 884.4,1546.1 886.8,1542.0 888.6,1538.4 891.1,1533.1 898.3,1515.9 900.9,1510.0 903.3,1504.9 905.8,1500.6 907.0,1498.7 908.1,1497.3 909.3,1496.0 910.5,1494.8 911.3,1494.3 912.5,1493.6 913.7,1493.2 914.8,1493.2 916.0,1493.3 917.3,1493.8 918.5,1494.6 919.7,1495.6 920.9,1497.0 922.2,1498.5 923.4,1500.4 924.6,1502.4 926.6,1506.2 929.0,1511.4 937.0,1530.2 939.9,1536.8 942.5,1542.0 944.9,1546.1 946.2,1547.8 947.4,1549.2 948.6,1550.4 949.8,1551.4 951.1,1552.0 952.3,1552.4 953.5,1552.5 954.6,1552.3 956.0,1551.8 957.2,1551.0 958.4,1550.0 959.6,1548.7 960.9,1547.2 962.1,1545.4 963.3,1543.3 964.5,1541.0 966.4,1536.9 968.8,1530.8 976.0,1510.9 978.5,1504.4 980.9,1498.6 982.9,1494.6 984.1,1492.5 985.2,1491.0 986.0,1490.1 987.0,1489.0 988.4,1488.0 989.5,1487.4 990.2,1487.1 991.5,1487.0 992.7,1487.1 993.8,1487.4 994.5,1487.8 995.7,1488.7 997.0,1489.9 998.0,1491.1 1000.0,1493.9 1002.5,1498.2 1004.9,1503.3 1007.8,1510.0 1015.3,1528.3 1017.8,1533.7 1020.1,1538.2 1021.5,1540.5 1022.7,1542.4 1023.9,1543.9 1025.1,1545.3 1026.3,1546.3 1027.6,1547.1 1028.8,1547.5 1029.9,1547.7 1030.6,1547.6 1031.9,1547.3 1033.1,1546.7 1034.2,1546.0 1034.9,1545.3 1036.1,1544.0 1037.4,1542.4 1038.4,1540.8 1040.9,1536.5 1043.5,1531.1 1046.4,1524.4 1053.9,1506.1 1056.3,1500.7 1058.8,1496.0 1061.2,1492.1 1062.5,1490.6 1063.7,1489.3 1064.9,1488.3 1066.1,1487.6 1067.4,1487.1 1068.6,1487.0 1069.8,1487.2 1070.9,1487.6 1071.6,1488.0 1072.9,1488.9 1074.1,1490.1 1075.2,1491.4 1077.1,1494.3 1079.6,1498.6 1082.0,1503.8 1084.5,1509.4 1092.3,1528.4 1094.7,1533.8 1096.7,1537.7 1099.2,1541.8 1100.4,1543.4 1101.6,1544.9 1102.9,1546.0 1104.1,1546.8 1105.3,1547.4 1106.5,1547.7 1107.7,1547.6 1108.8,1547.3 1109.6,1547.0 1110.8,1546.2 1112.0,1545.1 1113.1,1543.9 1115.1,1541.2 1117.5,1537.0 1120.0,1532.0 1123.0,1525.0 1131.0,1505.7 1133.5,1500.3 1135.7,1496.0 1137.1,1493.7 1138.4,1491.9 1139.6,1490.4 1140.8,1489.1 1142.0,1488.1 1143.2,1487.5 1144.5,1487.1 1145.5,1487.0 1146.3,1487.1 1147.5,1487.4 1148.8,1488.1 1149.8,1488.9 1150.6,1489.7 1151.8,1491.0 1153.0,1492.7 1154.1,1494.3 1156.6,1498.7 1159.0,1503.9 1161.6,1509.9 1169.4,1528.9 1171.9,1534.2 1173.8,1538.1 1176.3,1542.1 1177.5,1543.7 1178.7,1545.0 1180.0,1546.1 1181.2,1547.0 1182.4,1547.5 1183.6,1547.7 1184.9,1547.6 1185.9,1547.2 1186.7,1546.9 1187.9,1546.0 1189.1,1544.9 1190.2,1543.7 1192.2,1540.9 1194.7,1536.6 1197.1,1531.6 1200.0,1524.9 1208.0,1505.6 1210.4,1500.3 1212.4,1496.4 1213.6,1494.3 1214.9,1492.5 1216.1,1490.8 1217.3,1489.5 1218.5,1488.5 1219.7,1487.7 1221.0,1487.2 1222.2,1487.0 1223.4,1487.1 1224.5,1487.5 1225.3,1487.8 1226.5,1488.7 1227.7,1489.9 1228.8,1491.1 1230.8,1493.9 1233.2,1498.2 1235.7,1503.3 1238.7,1510.4 1246.1,1528.3 1248.5,1533.7 1251.0,1538.4 1252.2,1540.5 1253.4,1542.3 1254.6,1543.9 1255.9,1545.3 1257.1,1546.3 1258.3,1547.1 1259.5,1547.5 1260.8,1547.7 1262.0,1547.5 1263.2,1547.1 1264.4,1546.3 1265.7,1545.3 1266.9,1544.0 1268.1,1542.4 1269.3,1540.6 1270.5,1538.5 1273.0,1533.8 1275.4,1528.4 1283.2,1509.4 1285.8,1503.4 1288.3,1498.3 1290.7,1494.0 1292.6,1491.4 1293.8,1489.9 1295.0,1488.8 1296.3,1487.9 1297.3,1487.4 1298.1,1487.1 1299.3,1487.0 1300.5,1487.1 1301.8,1487.6 1303.0,1488.4 1304.2,1489.4 1305.4,1490.8 1306.7,1492.4 1307.9,1494.2 1309.1,1496.3 1311.6,1501.1 1314.0,1506.5 1321.3,1524.4 1324.4,1531.5 1326.9,1536.5 1329.3,1540.8 1331.8,1544.4 1333.6,1546.5 1334.8,1547.8 1336.0,1548.7 1337.3,1549.5 1338.5,1549.9 1339.7,1550.1 1340.9,1550.0 1342.2,1549.6 1343.4,1548.9 1345.1,1547.5 1346.4,1545.9 1347.7,1544.3 1349.5,1541.4 1350.7,1539.3 1351.9,1536.8 1353.2,1533.5 1356.8,1520.2 1358.5,1515.3 1359.3,1513.4 1360.5,1510.7 1361.7,1508.5 1363.0,1506.6 1367.2,1500.2 1369.1,1497.8 1370.9,1495.8 1372.8,1494.1 1374.0,1493.4 1375.2,1492.9 1376.4,1492.8 1377.5,1492.9 1378.3,1493.2 1379.5,1493.9 1380.7,1494.8 1381.9,1495.9 1383.2,1497.3 1385.0,1499.9 1386.8,1503.2 1389.3,1508.3 1392.3,1515.3 1399.7,1532.9 1402.1,1538.2 1404.6,1543.0 1407.0,1546.9 1408.3,1548.5 1409.5,1549.8 1410.7,1550.9 1411.9,1551.7 1413.2,1552.2 1414.4,1552.4 1415.4,1552.3 1416.2,1552.2 1417.4,1551.6 1418.7,1550.8 1420.5,1549.1 1421.7,1547.6 1422.9,1545.8 1425.4,1541.7 1427.8,1536.8 1430.9,1529.9 1438.2,1512.4 1440.7,1507.1 1443.1,1502.4 1445.6,1498.5 1446.8,1497.0 1448.0,1495.7 1449.3,1494.6 1450.5,1493.8 1451.7,1493.3 1452.9,1493.2 1454.0,1493.2 1454.8,1493.4 1456.0,1494.0 1457.2,1494.8 1459.1,1496.6 1460.3,1498.1 1461.5,1499.9 1463.9,1504.1 1466.4,1509.0 1469.5,1515.9 1476.8,1533.4 1479.2,1538.7 1481.7,1543.3 1482.9,1545.4 1484.1,1547.2 1485.4,1548.7 1486.6,1550.0 1487.8,1551.0 1489.0,1551.8 1490.3,1552.3 1491.5,1552.4 1492.3,1552.4 1493.3,1552.1 1494.5,1551.5 1495.8,1550.7 1497.6,1548.9 1498.8,1547.3 1500.1,1545.5 1502.5,1541.3 1505.0,1536.3 1508.0,1529.4 1515.4,1511.9 1517.8,1506.7 1520.3,1502.1 1521.5,1500.0 1522.7,1498.3 1523.9,1496.7 1525.2,1495.5 1526.4,1494.5 1527.6,1493.7 1528.8,1493.3 1530.0,1493.2 1531.3,1493.3 1532.0,1493.6 1533.1,1494.1 1534.3,1495.0 1536.2,1496.8 1537.4,1498.4 1538.6,1500.2 1541.1,1504.4 1543.5,1509.4 1546.0,1515.0 1553.9,1533.8 1556.4,1539.1 1558.2,1542.6 1560.6,1546.6 1561.9,1548.2 1563.1,1549.6 1564.3,1550.7 1565.5,1551.6 1566.8,1552.1 1568.0,1552.4 1569.2,1552.4 1570.0,1552.2 1571.1,1551.8 1572.3,1551.0 1573.5,1549.9 1574.7,1548.6 1575.9,1547.0 1577.2,1545.2 1579.6,1540.9 1582.1,1535.9 1584.5,1530.4 1592.5,1511.5 1594.9,1506.3 1596.8,1502.8 1599.2,1498.8 1600.4,1497.2 1601.7,1495.9 1602.9,1494.8 1604.1,1493.9 1605.3,1493.4 1606.6,1493.2 1607.8,1493.2 1608.5,1493.4 1609.6,1493.9 1610.8,1494.7 1612.1,1495.7 1612.8,1496.5 1613.9,1497.8 1615.1,1499.5 1617.6,1503.7 1620.2,1508.9 1623.1,1515.4 1631.0,1534.3 1633.5,1539.5 1635.3,1543.0 1636.5,1545.0 1637.8,1546.9 1639.0,1548.5 1640.2,1549.8 1641.4,1550.9 1642.7,1551.7 1643.9,1552.2 1645.1,1552.4 1646.3,1552.3 1647.1,1552.1 1648.2,1551.7 1649.4,1550.8 1650.6,1549.8 1651.4,1548.9 1652.5,1547.6 1653.7,1545.9 1656.1,1541.7 1658.6,1536.8 1661.6,1529.9 1669.1,1512.1 1671.4,1507.1 1673.9,1502.4 1676.3,1498.6 1677.5,1497.0 1678.8,1495.7 1680.0,1494.6 1681.2,1493.8 1682.4,1493.3 1683.7,1493.2 1684.9,1493.3 1685.7,1493.5 1686.7,1494.0 1688.0,1494.8 1689.2,1495.9 1689.9,1496.8 1691.0,1498.1 1692.2,1499.8 1694.7,1504.0 1697.1,1509.0 1700.2,1515.9 1707.5,1533.4 1710.0,1538.6 1712.0,1542.5 1714.3,1546.3 1715.5,1548.0 1716.7,1549.4 1717.9,1550.5 1719.2,1551.4 1720.4,1552.1 1721.6,1552.4 1722.8,1552.4 1723.6,1552.2 1724.7,1551.9 1725.9,1551.2 1727.1,1550.2 1728.3,1548.9 1729.6,1547.3 1730.8,1545.6 1733.2,1541.4 1735.7,1536.4 1738.3,1530.5 1746.1,1512.0 1748.5,1506.7 1751.0,1502.1 1752.2,1500.1 1753.4,1498.3 1754.7,1496.7 1755.9,1495.5 1757.1,1494.5 1758.3,1493.7 1759.6,1493.3 1760.8,1493.2 1762.0,1493.3 1762.8,1493.6 1763.8,1494.1 1765.1,1495.0 1766.3,1496.1 1767.1,1497.0 1768.1,1498.4 1769.3,1500.2 1771.8,1504.4 1774.2,1509.4 1776.8,1515.3 1784.7,1533.8 1787.1,1539.0 1788.9,1542.6 1791.4,1546.6 1792.6,1548.2 1793.8,1549.6 1795.1,1550.7 1796.3,1551.6 1797.5,1552.1 1798.7,1552.4 1800.0,1552.4 1800.7,1552.2 1801.8,1551.8 1803.0,1551.0 1804.2,1550.0 1805.0,1549.2 1806.1,1547.9 1807.4,1546.0 1809.9,1541.8 1812.8,1536.0 1815.3,1530.4 1823.2,1511.6 1825.7,1506.3 1827.5,1502.8 1829.9,1498.9 1831.2,1497.3 1832.4,1495.9 1833.6,1494.8 1834.8,1494.0 1836.1,1493.4 1837.3,1493.2 1838.5,1493.2 1839.7,1493.6 1841.0,1494.2 1841.7,1494.8 1842.8,1495.7 1844.0,1497.0 1845.2,1498.6 1846.5,1500.5 1848.9,1504.8 1851.4,1509.8 1854.0,1515.7 1861.3,1533.2 1863.8,1538.5 1866.0,1542.9 1868.5,1546.8 1870.5,1549.3 1871.6,1550.3 1872.8,1551.3 1874.0,1552.0 1875.2,1552.3 1876.5,1552.4 1877.7,1552.2 1878.9,1551.7 1879.7,1551.2 1880.7,1550.4 1882.0,1549.1 1883.2,1547.6 1884.4,1545.9 1886.9,1541.8 1889.5,1536.5 1892.4,1530.0 1899.9,1512.1 1902.3,1506.9 1904.6,1502.5 1905.8,1500.4 1907.1,1498.6 1908.3,1497.0 1909.5,1495.7 1910.7,1494.6 1912.0,1493.9 1913.2,1493.4 1914.4,1493.2 1915.6,1493.3 1916.4,1493.5 1917.5,1494.0 1918.7,1494.8 1919.9,1495.9 1920.7,1496.7 1921.7,1498.1 1923.1,1500.1 1925.4,1504.0 1928.0,1509.2 1930.9,1515.8 1938.3,1533.3 1940.7,1538.6 1942.6,1542.2 1945.0,1546.2 1946.2,1547.9 1947.4,1549.4 1948.7,1550.5 1949.9,1551.4 1951.1,1552.0 1951.9,1552.3 1953.0,1552.4 1954.2,1552.3 1955.4,1551.9 1956.6,1551.2 1957.9,1550.2 1959.1,1548.9 1960.3,1547.4 1961.5,1545.6 1964.0,1541.4 1966.6,1536.1 1969.5,1529.5 1976.8,1512.0 1979.3,1506.8 1981.3,1503.0 1983.7,1499.0 1984.9,1497.3 1986.2,1496.0 1987.4,1494.8 1988.6,1494.0 1989.8,1493.4 1991.1,1493.2 1992.1,1493.2 1993.4,1493.5 1994.6,1494.1 1995.3,1494.6 1996.4,1495.5 1997.6,1496.8 1998.9,1498.3 2000.2,1500.4 2002.5,1504.4 2005.1,1509.7 2008.0,1516.3 2014.9,1532.7 2017.2,1537.7 2019.2,1541.7 2021.7,1545.8 2022.7,1547.4 2024.0,1548.9 2024.7,1549.7 2025.9,1550.8 2027.0,1551.5 2028.2,1552.1 2029.5,1552.4 2030.7,1552.4 2031.9,1552.0 2033.1,1551.4 2034.4,1550.5 2035.6,1549.4 2036.8,1547.9 2038.2,1546.0 2040.6,1541.9 2043.5,1536.0 2046.1,1530.1 2053.9,1511.6 2056.4,1506.4 2058.2,1502.9 2060.7,1498.9 2061.9,1497.3 2063.1,1495.9 2064.3,1494.8 2065.6,1494.0 2066.8,1493.4 2067.6,1493.2 2068.6,1493.2 2069.9,1493.4 2071.1,1493.8 2072.3,1494.6 2073.5,1495.7 2074.8,1497.0 2076.0,1498.6 2077.4,1500.7 2079.6,1504.7 2082.2,1510.1 2084.7,1515.7 2091.4,1531.8 2093.3,1535.9 2095.1,1539.7 2097.4,1543.9 2099.2,1546.8 2101.1,1549.1 2102.9,1550.8 2103.7,1551.4 2104.9,1552.0 2106.0,1552.3 2107.2,1552.4 2108.4,1552.2 2109.2,1551.9 2110.2,1551.3 2111.5,1550.4 2113.5,1548.3 2115.8,1545.0 2118.2,1540.6 2120.5,1535.9"/>
</g>
<g id="legend1">
<rect x="1544.6" y="75.9" width="554" height="141.1" fill="#fff" stroke="#262626" stroke-width="3.4"/>
<rect x="1558.9" y="111.8" width="154" height="6.3" fill="#f00"/>
<rect x="1558.9" y="173.95" width="26.1" height="7.1" fill="#00f"/>
<rect x="1607.95" y="173.95" width="26.1" height="7.1" fill="#00f"/>
<rect x="1657" y="173.95" width="26.1" height="7.1" fill="#00f"/>
<rect x="1706.05" y="173.95" width="6.85" height="7.1" fill="#00f"/>
<text class="lg" x="1723.5" y="135" textLength="275.5" lengthAdjust="spacingAndGlyphs">actual value</text>
<text class="lg" x="1723.5" y="196.8" textLength="360" lengthAdjust="spacingAndGlyphs">estimated value</text>
</g>
<g id="legend2">
<rect x="1544.6" y="678.95" width="554" height="137.4" fill="#fff" stroke="#262626" stroke-width="3.4"/>
<rect x="1558.9" y="713.85" width="154" height="6.3" fill="#f00"/>
<rect x="1558.9" y="774.95" width="26.1" height="7.1" fill="#00f"/>
<rect x="1607.95" y="774.95" width="26.1" height="7.1" fill="#00f"/>
<rect x="1657" y="774.95" width="26.1" height="7.1" fill="#00f"/>
<rect x="1706.05" y="774.95" width="6.85" height="7.1" fill="#00f"/>
<text class="lg" x="1723.5" y="736.9" textLength="275.5" lengthAdjust="spacingAndGlyphs">actual value</text>
<text class="lg" x="1723.5" y="797.8" textLength="360" lengthAdjust="spacingAndGlyphs">estimated value</text>
</g>
<g id="legend3">
<rect x="1544.6" y="1275.9" width="554" height="140.45" fill="#fff" stroke="#262626" stroke-width="3.4"/>
<rect x="1558.9" y="1311.8" width="154" height="6.3" fill="#f00"/>
<rect x="1558.9" y="1372.9" width="26.1" height="9.2" fill="#00f"/>
<rect x="1607.95" y="1372.9" width="26.1" height="9.2" fill="#00f"/>
<rect x="1657" y="1372.9" width="26.1" height="9.2" fill="#00f"/>
<rect x="1706.05" y="1372.9" width="6.85" height="9.2" fill="#00f"/>
<text class="lg" x="1723.5" y="1335" textLength="275.5" lengthAdjust="spacingAndGlyphs">actual value</text>
<text class="lg" x="1723.5" y="1396.8" textLength="360" lengthAdjust="spacingAndGlyphs">estimated value</text>
</g>
<text class="ti" x="1018.5" y="85.1" textLength="276" lengthAdjust="spacingAndGlyphs">vessel 1</text>
</svg>
</body></html>
